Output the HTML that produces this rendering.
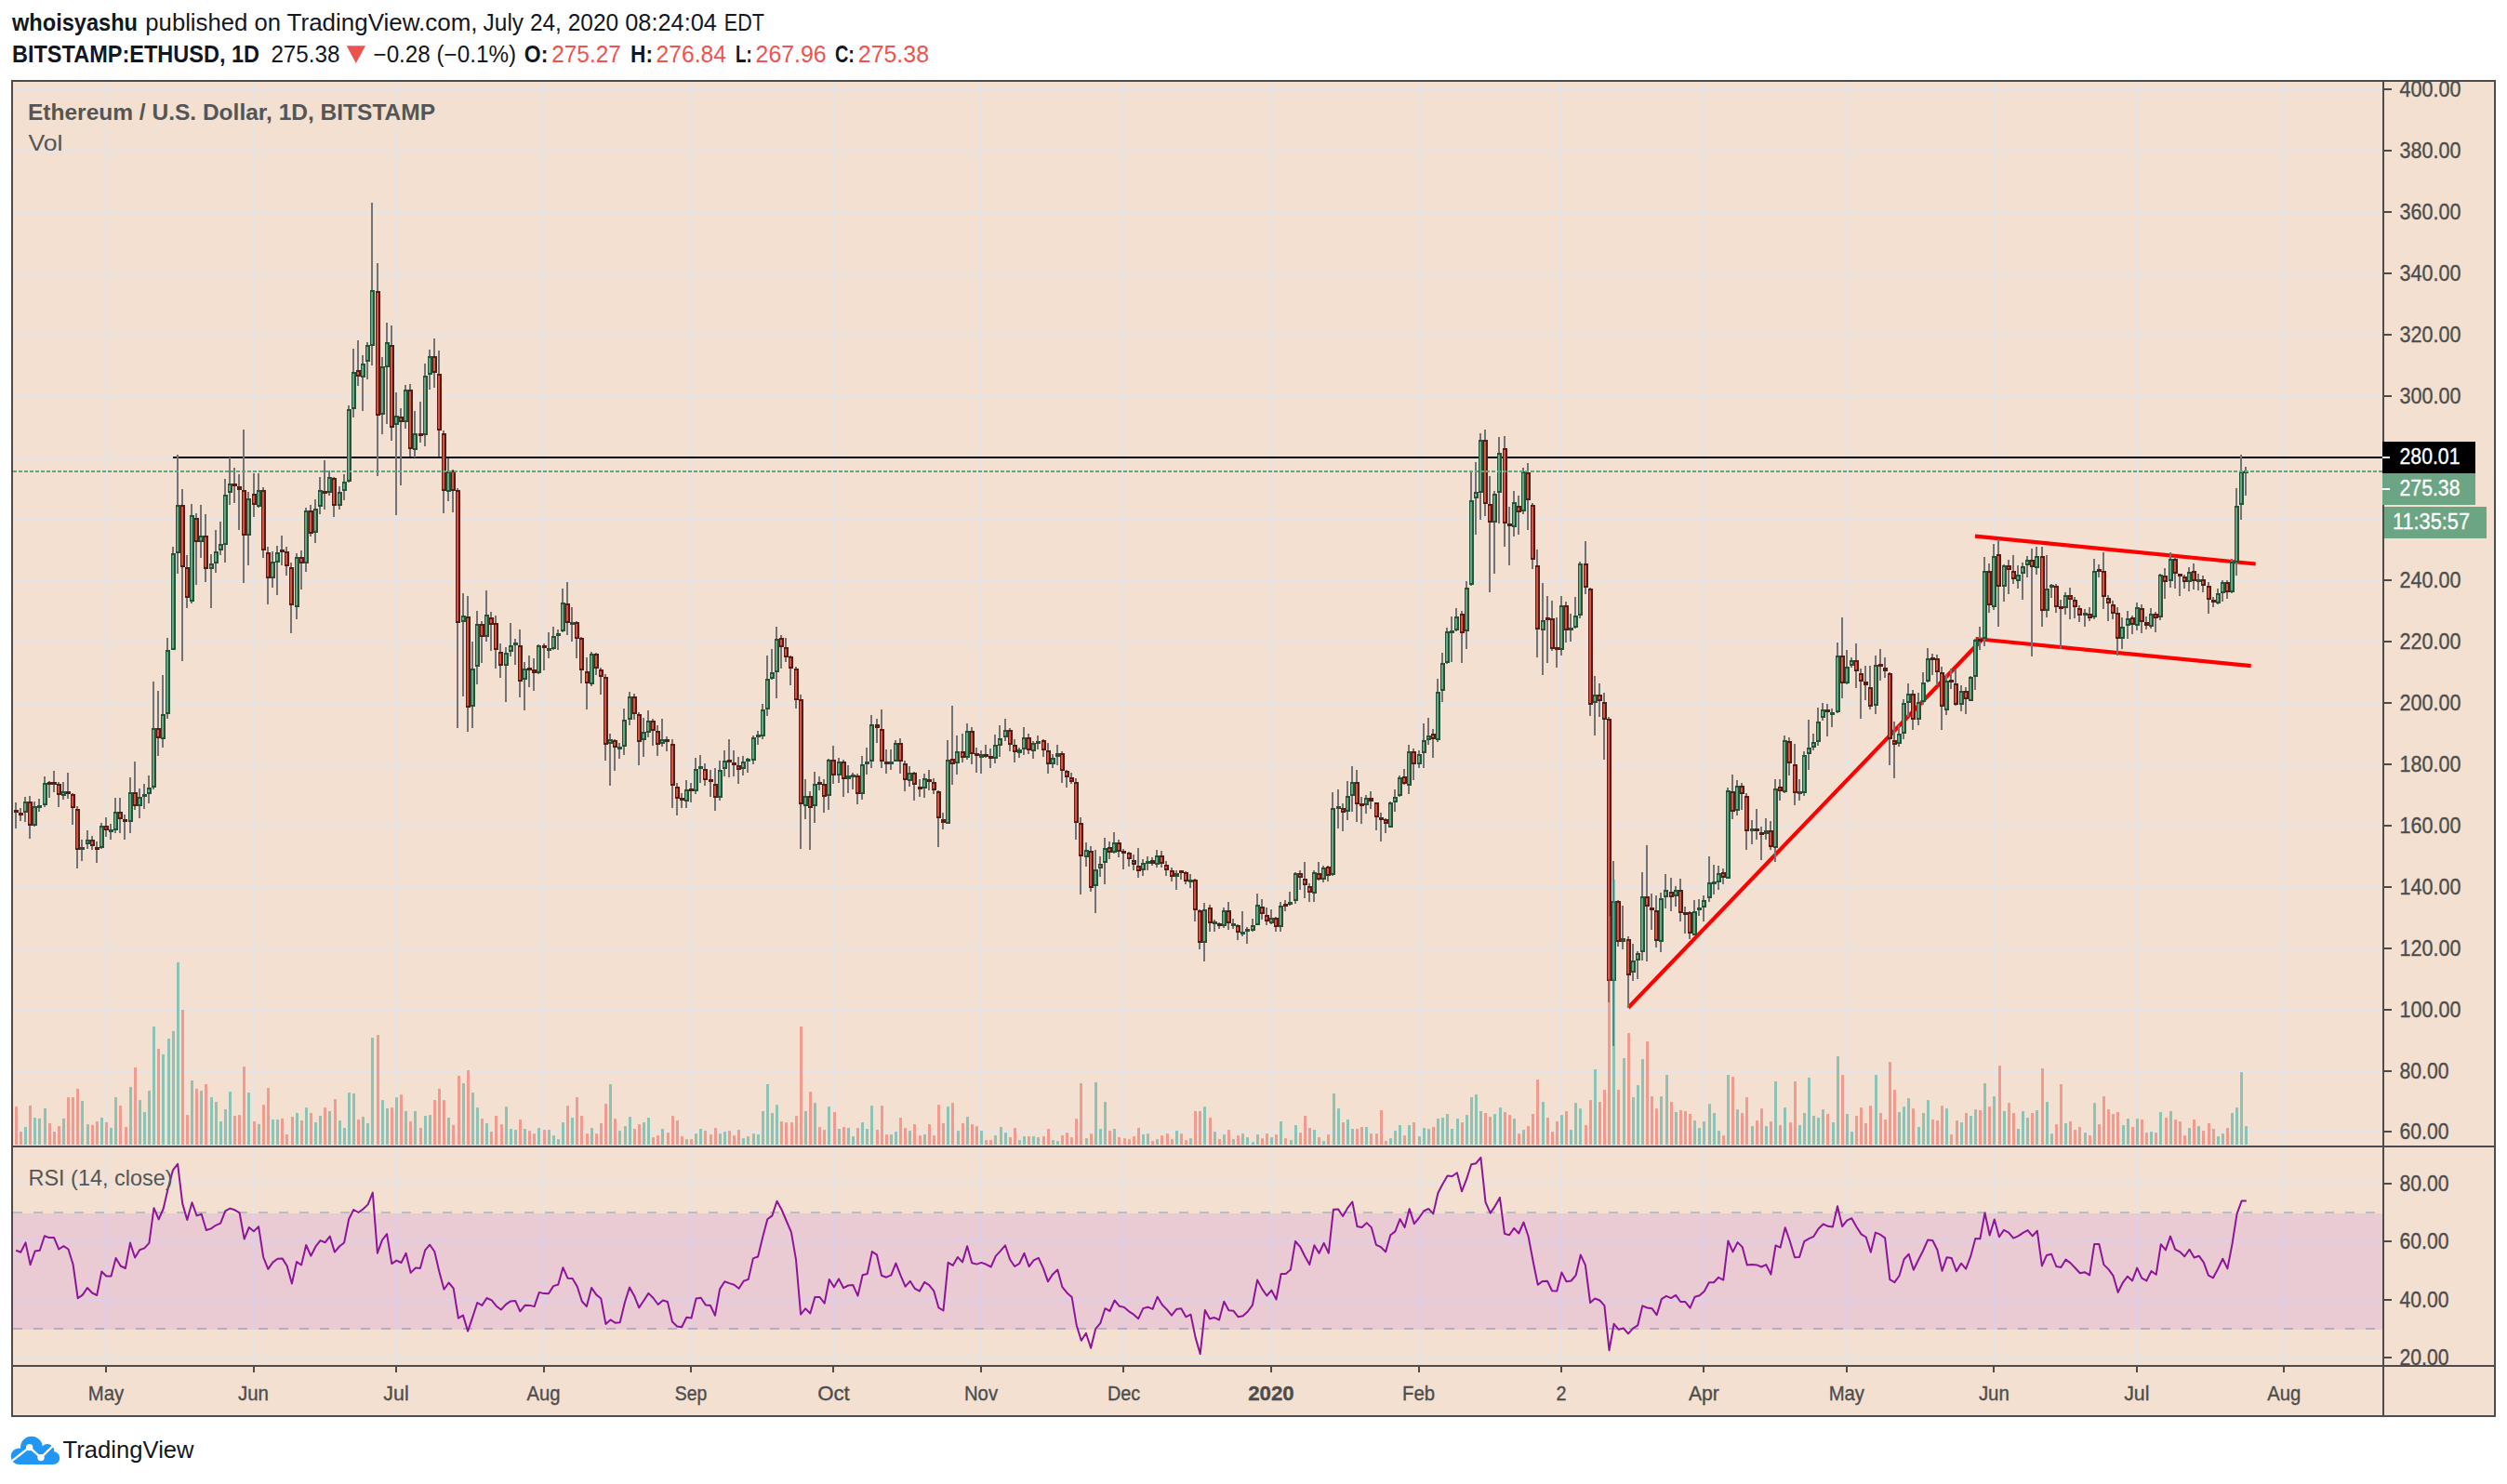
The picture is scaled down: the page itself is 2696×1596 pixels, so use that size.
<!DOCTYPE html><html><head><meta charset="utf-8"><title>ETHUSD chart</title><style>html,body{margin:0;padding:0;background:#fff;width:2696px;height:1596px;overflow:hidden}</style></head><body><svg width="2696" height="1596" viewBox="0 0 2696 1596" style="position:absolute;left:0;top:0;display:block">
<rect x="0" y="0" width="2696" height="1596" fill="#ffffff"/>
<rect x="12" y="86" width="2672" height="1438" fill="#4c4c4e"/>
<rect x="14" y="88" width="2668" height="1434" fill="#f3e0d0"/>
<defs><clipPath id="cm"><rect x="14" y="88" width="2548" height="1144"/></clipPath><clipPath id="cr"><rect x="14" y="1234" width="2548" height="234"/></clipPath><clipPath id="cp"><rect x="2564" y="88" width="118" height="1144"/></clipPath><clipPath id="ca"><rect x="2564" y="1234" width="118" height="234"/></clipPath></defs>
<g fill="#e5e5e7"><rect x="113" y="88" width="2" height="1144"/><rect x="113" y="1234" width="2" height="234"/><rect x="272" y="88" width="2" height="1144"/><rect x="272" y="1234" width="2" height="234"/><rect x="425" y="88" width="2" height="1144"/><rect x="425" y="1234" width="2" height="234"/><rect x="584" y="88" width="2" height="1144"/><rect x="584" y="1234" width="2" height="234"/><rect x="742" y="88" width="2" height="1144"/><rect x="742" y="1234" width="2" height="234"/><rect x="895" y="88" width="2" height="1144"/><rect x="895" y="1234" width="2" height="234"/><rect x="1054" y="88" width="2" height="1144"/><rect x="1054" y="1234" width="2" height="234"/><rect x="1207" y="88" width="2" height="1144"/><rect x="1207" y="1234" width="2" height="234"/><rect x="1366" y="88" width="2" height="1144"/><rect x="1366" y="1234" width="2" height="234"/><rect x="1525" y="88" width="2" height="1144"/><rect x="1525" y="1234" width="2" height="234"/><rect x="1678" y="88" width="2" height="1144"/><rect x="1678" y="1234" width="2" height="234"/><rect x="1831" y="88" width="2" height="1144"/><rect x="1831" y="1234" width="2" height="234"/><rect x="1985" y="88" width="2" height="1144"/><rect x="1985" y="1234" width="2" height="234"/><rect x="2143" y="88" width="2" height="1144"/><rect x="2143" y="1234" width="2" height="234"/><rect x="2297" y="88" width="2" height="1144"/><rect x="2297" y="1234" width="2" height="234"/><rect x="2455" y="88" width="2" height="1144"/><rect x="2455" y="1234" width="2" height="234"/><rect x="14" y="95" width="2548" height="2"/><rect x="14" y="161" width="2548" height="2"/><rect x="14" y="227" width="2548" height="2"/><rect x="14" y="293" width="2548" height="2"/><rect x="14" y="359" width="2548" height="2"/><rect x="14" y="425" width="2548" height="2"/><rect x="14" y="491" width="2548" height="2"/><rect x="14" y="557" width="2548" height="2"/><rect x="14" y="623" width="2548" height="2"/><rect x="14" y="689" width="2548" height="2"/><rect x="14" y="755" width="2548" height="2"/><rect x="14" y="821" width="2548" height="2"/><rect x="14" y="887" width="2548" height="2"/><rect x="14" y="953" width="2548" height="2"/><rect x="14" y="1019" width="2548" height="2"/><rect x="14" y="1085" width="2548" height="2"/><rect x="14" y="1151" width="2548" height="2"/><rect x="14" y="1216" width="2548" height="2"/><rect x="14" y="1272" width="2548" height="2"/><rect x="14" y="1334" width="2548" height="2"/><rect x="14" y="1397" width="2548" height="2"/><rect x="14" y="1459" width="2548" height="2"/></g>
<line x1="14" y1="1304" x2="2562" y2="1304" stroke="#bcbcc3" stroke-width="2" stroke-dasharray="10 12"/>
<line x1="14" y1="1429" x2="2562" y2="1429" stroke="#bcbcc3" stroke-width="2" stroke-dasharray="10 12"/>
<rect x="14" y="1305" width="2548" height="125" fill="#9915ff" fill-opacity="0.1"/>
<rect x="186" y="491" width="2376" height="2" fill="#000"/>
<g stroke="#ff0000" stroke-width="4.2" stroke-linecap="butt" clip-path="url(#cm)"><line x1="1751" y1="1083.7" x2="2131" y2="688.3"/><line x1="2124" y1="576.7" x2="2425.7" y2="606.5"/><line x1="2124.5" y1="687" x2="2420.7" y2="716.1"/></g>
<g clip-path="url(#cm)" shape-rendering="crispEdges"><g fill="#737375"><rect x="16" y="863.4" width="2" height="27.2"/><rect x="21" y="868.5" width="2" height="14.2"/><rect x="26" y="857.2" width="2" height="26.4"/><rect x="31" y="856.2" width="2" height="45.3"/><rect x="36" y="861.5" width="2" height="27.7"/><rect x="41" y="859.1" width="2" height="14.2"/><rect x="47" y="834.5" width="2" height="33.0"/><rect x="52" y="840.2" width="2" height="17.9"/><rect x="57" y="829.2" width="2" height="23.2"/><rect x="62" y="841.1" width="2" height="26.4"/><rect x="67" y="841.1" width="2" height="19.2"/><rect x="72" y="831.1" width="2" height="28.3"/><rect x="77" y="852.5" width="2" height="34.9"/><rect x="82" y="867.2" width="2" height="66.4"/><rect x="87" y="902.5" width="2" height="23.2"/><rect x="93" y="892.5" width="2" height="20.4"/><rect x="98" y="899.2" width="2" height="14.5"/><rect x="103" y="905.3" width="2" height="22.3"/><rect x="108" y="884.5" width="2" height="28.7"/><rect x="113" y="878.5" width="2" height="21.1"/><rect x="118" y="885.5" width="2" height="17.9"/><rect x="123" y="858.1" width="2" height="37.7"/><rect x="128" y="858.1" width="2" height="37.7"/><rect x="133" y="876.0" width="2" height="27.4"/><rect x="139" y="835.5" width="2" height="60.4"/><rect x="144" y="819.4" width="2" height="51.9"/><rect x="149" y="848.3" width="2" height="32.1"/><rect x="154" y="843.4" width="2" height="27.0"/><rect x="159" y="834.2" width="2" height="29.6"/><rect x="164" y="733.2" width="2" height="115.5"/><rect x="169" y="742.5" width="2" height="70.9"/><rect x="174" y="726.0" width="2" height="77.7"/><rect x="179" y="686.4" width="2" height="86.4"/><rect x="185" y="588.1" width="2" height="111.3"/><rect x="190" y="489.4" width="2" height="127.9"/><rect x="195" y="526.2" width="2" height="184.5"/><rect x="200" y="596.6" width="2" height="57.0"/><rect x="205" y="541.9" width="2" height="106.6"/><rect x="210" y="552.3" width="2" height="76.4"/><rect x="215" y="542.8" width="2" height="57.2"/><rect x="220" y="552.8" width="2" height="73.0"/><rect x="226" y="596.2" width="2" height="57.5"/><rect x="231" y="569.8" width="2" height="46.6"/><rect x="236" y="561.1" width="2" height="35.5"/><rect x="241" y="514.9" width="2" height="89.8"/><rect x="246" y="492.3" width="2" height="50.6"/><rect x="251" y="502.8" width="2" height="37.7"/><rect x="256" y="509.8" width="2" height="60.0"/><rect x="261" y="462.1" width="2" height="164.7"/><rect x="266" y="529.1" width="2" height="78.5"/><rect x="272" y="508.9" width="2" height="46.6"/><rect x="277" y="509.2" width="2" height="36.4"/><rect x="282" y="524.0" width="2" height="76.4"/><rect x="287" y="588.1" width="2" height="62.3"/><rect x="292" y="593.2" width="2" height="39.2"/><rect x="297" y="587.2" width="2" height="52.3"/><rect x="302" y="575.8" width="2" height="32.6"/><rect x="307" y="588.1" width="2" height="31.1"/><rect x="312" y="605.1" width="2" height="75.5"/><rect x="318" y="595.1" width="2" height="70.4"/><rect x="323" y="591.9" width="2" height="42.5"/><rect x="328" y="546.0" width="2" height="68.5"/><rect x="333" y="542.8" width="2" height="34.5"/><rect x="338" y="537.2" width="2" height="46.6"/><rect x="343" y="513.2" width="2" height="39.6"/><rect x="348" y="495.1" width="2" height="52.5"/><rect x="353" y="506.4" width="2" height="27.0"/><rect x="358" y="512.6" width="2" height="43.8"/><rect x="364" y="523.4" width="2" height="24.2"/><rect x="369" y="510.2" width="2" height="27.4"/><rect x="374" y="435.8" width="2" height="83.4"/><rect x="379" y="375.1" width="2" height="73.6"/><rect x="384" y="366.0" width="2" height="48.7"/><rect x="389" y="382.1" width="2" height="59.4"/><rect x="394" y="367.9" width="2" height="39.6"/><rect x="399" y="217.9" width="2" height="175.5"/><rect x="405" y="283.0" width="2" height="228.7"/><rect x="410" y="384.0" width="2" height="82.5"/><rect x="415" y="347.2" width="2" height="108.5"/><rect x="420" y="350.4" width="2" height="123.2"/><rect x="425" y="422.3" width="2" height="131.3"/><rect x="430" y="439.2" width="2" height="82.3"/><rect x="435" y="414.2" width="2" height="47.2"/><rect x="440" y="413.2" width="2" height="78.1"/><rect x="445" y="442.1" width="2" height="49.8"/><rect x="451" y="432.1" width="2" height="43.4"/><rect x="456" y="391.1" width="2" height="88.5"/><rect x="461" y="376.0" width="2" height="42.5"/><rect x="466" y="364.2" width="2" height="52.5"/><rect x="471" y="377.0" width="2" height="114.3"/><rect x="476" y="463.2" width="2" height="88.5"/><rect x="481" y="493.2" width="2" height="45.3"/><rect x="486" y="505.1" width="2" height="46.2"/><rect x="491" y="525.3" width="2" height="257.4"/><rect x="497" y="638.3" width="2" height="110.4"/><rect x="502" y="641.1" width="2" height="146.2"/><rect x="507" y="690.2" width="2" height="92.5"/><rect x="512" y="657.2" width="2" height="78.3"/><rect x="517" y="668.1" width="2" height="44.7"/><rect x="522" y="634.9" width="2" height="54.7"/><rect x="527" y="658.1" width="2" height="41.5"/><rect x="532" y="662.3" width="2" height="56.2"/><rect x="537" y="692.1" width="2" height="36.8"/><rect x="543" y="696.2" width="2" height="58.7"/><rect x="548" y="670.0" width="2" height="35.8"/><rect x="553" y="687.0" width="2" height="27.7"/><rect x="558" y="677.0" width="2" height="72.6"/><rect x="563" y="711.9" width="2" height="51.9"/><rect x="568" y="705.3" width="2" height="33.6"/><rect x="573" y="707.5" width="2" height="35.1"/><rect x="578" y="693.0" width="2" height="32.1"/><rect x="584" y="692.1" width="2" height="28.9"/><rect x="589" y="680.2" width="2" height="27.5"/><rect x="594" y="674.2" width="2" height="24.9"/><rect x="599" y="677.0" width="2" height="21.7"/><rect x="604" y="633.0" width="2" height="47.2"/><rect x="609" y="625.5" width="2" height="57.2"/><rect x="614" y="653.0" width="2" height="36.6"/><rect x="619" y="668.1" width="2" height="39.6"/><rect x="624" y="685.1" width="2" height="49.4"/><rect x="630" y="707.2" width="2" height="55.7"/><rect x="635" y="700.9" width="2" height="37.0"/><rect x="640" y="702.1" width="2" height="23.6"/><rect x="645" y="717.9" width="2" height="28.9"/><rect x="650" y="725.1" width="2" height="93.0"/><rect x="655" y="788.9" width="2" height="56.0"/><rect x="660" y="794.5" width="2" height="34.3"/><rect x="665" y="798.7" width="2" height="17.0"/><rect x="670" y="761.9" width="2" height="50.0"/><rect x="676" y="744.0" width="2" height="35.8"/><rect x="681" y="745.8" width="2" height="28.3"/><rect x="686" y="765.7" width="2" height="57.2"/><rect x="691" y="771.9" width="2" height="41.9"/><rect x="696" y="763.8" width="2" height="29.6"/><rect x="701" y="773.2" width="2" height="29.2"/><rect x="706" y="779.8" width="2" height="33.0"/><rect x="711" y="773.2" width="2" height="30.2"/><rect x="716" y="792.1" width="2" height="15.7"/><rect x="722" y="795.3" width="2" height="73.6"/><rect x="727" y="842.1" width="2" height="34.9"/><rect x="732" y="853.0" width="2" height="16.4"/><rect x="737" y="838.9" width="2" height="29.6"/><rect x="742" y="842.1" width="2" height="20.8"/><rect x="747" y="814.7" width="2" height="39.1"/><rect x="752" y="811.9" width="2" height="29.8"/><rect x="757" y="820.9" width="2" height="24.0"/><rect x="763" y="827.9" width="2" height="28.9"/><rect x="768" y="826.0" width="2" height="45.8"/><rect x="773" y="818.1" width="2" height="42.8"/><rect x="778" y="807.2" width="2" height="27.7"/><rect x="783" y="794.9" width="2" height="40.9"/><rect x="788" y="806.8" width="2" height="28.1"/><rect x="793" y="813.8" width="2" height="29.2"/><rect x="798" y="812.8" width="2" height="21.3"/><rect x="803" y="814.7" width="2" height="16.0"/><rect x="809" y="791.1" width="2" height="30.8"/><rect x="814" y="786.0" width="2" height="14.9"/><rect x="819" y="757.2" width="2" height="37.7"/><rect x="824" y="704.9" width="2" height="65.1"/><rect x="829" y="698.1" width="2" height="32.6"/><rect x="834" y="674.2" width="2" height="76.4"/><rect x="839" y="682.6" width="2" height="36.2"/><rect x="844" y="686.0" width="2" height="25.8"/><rect x="849" y="705.3" width="2" height="31.5"/><rect x="855" y="717.2" width="2" height="44.7"/><rect x="860" y="747.2" width="2" height="165.5"/><rect x="865" y="838.1" width="2" height="42.5"/><rect x="870" y="851.3" width="2" height="62.3"/><rect x="875" y="830.2" width="2" height="54.7"/><rect x="880" y="835.3" width="2" height="15.1"/><rect x="885" y="838.1" width="2" height="35.5"/><rect x="890" y="815.5" width="2" height="55.3"/><rect x="895" y="801.9" width="2" height="40.9"/><rect x="901" y="815.1" width="2" height="26.8"/><rect x="906" y="817.4" width="2" height="39.2"/><rect x="911" y="823.0" width="2" height="29.8"/><rect x="916" y="830.9" width="2" height="18.1"/><rect x="921" y="831.5" width="2" height="33.4"/><rect x="926" y="813.2" width="2" height="46.6"/><rect x="931" y="804.2" width="2" height="28.7"/><rect x="936" y="769.2" width="2" height="56.6"/><rect x="942" y="773.0" width="2" height="25.5"/><rect x="947" y="763.0" width="2" height="62.8"/><rect x="952" y="806.0" width="2" height="25.8"/><rect x="957" y="806.0" width="2" height="21.7"/><rect x="962" y="796.0" width="2" height="23.2"/><rect x="967" y="794.2" width="2" height="37.4"/><rect x="972" y="818.3" width="2" height="32.5"/><rect x="977" y="824.3" width="2" height="21.3"/><rect x="982" y="830.2" width="2" height="30.6"/><rect x="988" y="838.1" width="2" height="18.5"/><rect x="993" y="832.1" width="2" height="25.5"/><rect x="998" y="828.1" width="2" height="21.9"/><rect x="1003" y="837.2" width="2" height="16.6"/><rect x="1008" y="850.4" width="2" height="60.4"/><rect x="1013" y="874.0" width="2" height="17.5"/><rect x="1018" y="796.0" width="2" height="90.2"/><rect x="1023" y="758.9" width="2" height="84.9"/><rect x="1028" y="790.9" width="2" height="41.9"/><rect x="1034" y="789.1" width="2" height="30.6"/><rect x="1039" y="778.1" width="2" height="38.9"/><rect x="1044" y="781.9" width="2" height="39.8"/><rect x="1049" y="804.2" width="2" height="26.8"/><rect x="1054" y="807.0" width="2" height="24.9"/><rect x="1059" y="800.9" width="2" height="14.5"/><rect x="1064" y="805.1" width="2" height="20.8"/><rect x="1069" y="790.0" width="2" height="31.1"/><rect x="1074" y="780.0" width="2" height="33.6"/><rect x="1080" y="773.0" width="2" height="23.6"/><rect x="1085" y="783.0" width="2" height="24.5"/><rect x="1090" y="795.3" width="2" height="24.5"/><rect x="1095" y="804.2" width="2" height="10.8"/><rect x="1100" y="782.1" width="2" height="29.6"/><rect x="1105" y="789.1" width="2" height="21.7"/><rect x="1110" y="797.2" width="2" height="18.7"/><rect x="1115" y="790.9" width="2" height="15.1"/><rect x="1121" y="794.7" width="2" height="18.9"/><rect x="1126" y="799.1" width="2" height="32.8"/><rect x="1131" y="811.3" width="2" height="14.5"/><rect x="1136" y="800.9" width="2" height="21.7"/><rect x="1141" y="807.9" width="2" height="34.0"/><rect x="1146" y="828.1" width="2" height="18.9"/><rect x="1151" y="831.1" width="2" height="11.7"/><rect x="1156" y="837.2" width="2" height="65.7"/><rect x="1161" y="879.1" width="2" height="82.6"/><rect x="1167" y="906.0" width="2" height="26.4"/><rect x="1172" y="909.8" width="2" height="49.1"/><rect x="1177" y="914.0" width="2" height="67.5"/><rect x="1182" y="921.1" width="2" height="21.7"/><rect x="1187" y="900.9" width="2" height="49.8"/><rect x="1192" y="905.1" width="2" height="18.9"/><rect x="1197" y="895.1" width="2" height="23.2"/><rect x="1202" y="903.2" width="2" height="18.5"/><rect x="1207" y="912.6" width="2" height="22.3"/><rect x="1213" y="915.5" width="2" height="16.4"/><rect x="1218" y="919.2" width="2" height="16.4"/><rect x="1223" y="912.1" width="2" height="31.7"/><rect x="1228" y="924.0" width="2" height="17.9"/><rect x="1233" y="920.9" width="2" height="15.1"/><rect x="1238" y="921.9" width="2" height="9.4"/><rect x="1243" y="914.3" width="2" height="18.9"/><rect x="1248" y="915.3" width="2" height="17.4"/><rect x="1253" y="926.2" width="2" height="15.5"/><rect x="1259" y="933.2" width="2" height="14.5"/><rect x="1264" y="935.5" width="2" height="21.3"/><rect x="1269" y="937.0" width="2" height="8.5"/><rect x="1274" y="937.0" width="2" height="13.6"/><rect x="1279" y="939.8" width="2" height="14.7"/><rect x="1284" y="944.5" width="2" height="46.2"/><rect x="1289" y="977.5" width="2" height="43.4"/><rect x="1294" y="970.9" width="2" height="62.8"/><rect x="1300" y="972.8" width="2" height="28.9"/><rect x="1305" y="988.9" width="2" height="12.8"/><rect x="1310" y="991.7" width="2" height="7.0"/><rect x="1315" y="976.0" width="2" height="21.9"/><rect x="1320" y="970.0" width="2" height="29.6"/><rect x="1325" y="987.9" width="2" height="10.9"/><rect x="1330" y="993.6" width="2" height="17.0"/><rect x="1335" y="979.8" width="2" height="27.0"/><rect x="1340" y="997.0" width="2" height="17.9"/><rect x="1346" y="987.9" width="2" height="13.8"/><rect x="1351" y="960.9" width="2" height="34.5"/><rect x="1356" y="966.8" width="2" height="22.1"/><rect x="1361" y="976.0" width="2" height="18.9"/><rect x="1366" y="978.1" width="2" height="16.0"/><rect x="1371" y="986.0" width="2" height="15.7"/><rect x="1376" y="970.0" width="2" height="31.7"/><rect x="1381" y="968.1" width="2" height="11.9"/><rect x="1386" y="959.1" width="2" height="14.7"/><rect x="1392" y="937.9" width="2" height="33.6"/><rect x="1397" y="936.0" width="2" height="21.3"/><rect x="1402" y="927.0" width="2" height="38.7"/><rect x="1407" y="950.2" width="2" height="19.4"/><rect x="1412" y="936.0" width="2" height="33.6"/><rect x="1417" y="927.0" width="2" height="20.4"/><rect x="1422" y="931.3" width="2" height="17.4"/><rect x="1427" y="930.8" width="2" height="17.0"/><rect x="1432" y="852.1" width="2" height="89.6"/><rect x="1438" y="849.2" width="2" height="42.1"/><rect x="1443" y="864.0" width="2" height="29.6"/><rect x="1448" y="840.2" width="2" height="41.5"/><rect x="1453" y="824.2" width="2" height="48.7"/><rect x="1458" y="828.1" width="2" height="55.7"/><rect x="1463" y="857.2" width="2" height="28.3"/><rect x="1468" y="855.3" width="2" height="19.4"/><rect x="1473" y="851.1" width="2" height="18.5"/><rect x="1479" y="862.5" width="2" height="30.2"/><rect x="1484" y="874.2" width="2" height="30.8"/><rect x="1489" y="880.4" width="2" height="16.0"/><rect x="1494" y="862.1" width="2" height="28.3"/><rect x="1499" y="849.2" width="2" height="23.6"/><rect x="1504" y="834.2" width="2" height="22.6"/><rect x="1509" y="827.2" width="2" height="17.0"/><rect x="1514" y="801.1" width="2" height="52.5"/><rect x="1519" y="804.9" width="2" height="34.5"/><rect x="1525" y="807.2" width="2" height="18.5"/><rect x="1530" y="778.1" width="2" height="47.5"/><rect x="1535" y="772.3" width="2" height="28.3"/><rect x="1540" y="784.2" width="2" height="31.1"/><rect x="1545" y="730.0" width="2" height="67.9"/><rect x="1550" y="702.1" width="2" height="52.8"/><rect x="1555" y="675.1" width="2" height="39.1"/><rect x="1560" y="662.8" width="2" height="49.1"/><rect x="1565" y="654.2" width="2" height="25.1"/><rect x="1571" y="657.2" width="2" height="55.7"/><rect x="1576" y="625.1" width="2" height="72.6"/><rect x="1581" y="508.1" width="2" height="122.1"/><rect x="1586" y="497.2" width="2" height="77.4"/><rect x="1591" y="466.0" width="2" height="93.4"/><rect x="1596" y="461.9" width="2" height="92.8"/><rect x="1601" y="512.3" width="2" height="124.5"/><rect x="1606" y="527.7" width="2" height="89.2"/><rect x="1611" y="469.8" width="2" height="93.0"/><rect x="1617" y="468.9" width="2" height="118.9"/><rect x="1622" y="545.3" width="2" height="62.3"/><rect x="1627" y="527.9" width="2" height="48.9"/><rect x="1632" y="533.0" width="2" height="41.9"/><rect x="1637" y="503.4" width="2" height="49.4"/><rect x="1642" y="498.1" width="2" height="71.7"/><rect x="1647" y="541.1" width="2" height="70.6"/><rect x="1652" y="591.1" width="2" height="115.5"/><rect x="1658" y="627.0" width="2" height="98.5"/><rect x="1663" y="641.1" width="2" height="71.7"/><rect x="1668" y="646.2" width="2" height="53.8"/><rect x="1673" y="664.2" width="2" height="53.4"/><rect x="1678" y="641.1" width="2" height="63.6"/><rect x="1683" y="647.2" width="2" height="43.4"/><rect x="1688" y="660.0" width="2" height="29.6"/><rect x="1693" y="642.1" width="2" height="34.3"/><rect x="1698" y="603.8" width="2" height="60.9"/><rect x="1704" y="582.1" width="2" height="56.6"/><rect x="1709" y="632.1" width="2" height="137.7"/><rect x="1714" y="727.4" width="2" height="63.2"/><rect x="1719" y="734.9" width="2" height="35.8"/><rect x="1724" y="745.3" width="2" height="71.3"/><rect x="1729" y="770.8" width="2" height="306.8"/><rect x="1734" y="926.2" width="2" height="198.4"/><rect x="1739" y="967.9" width="2" height="49.8"/><rect x="1744" y="974.3" width="2" height="46.3"/><rect x="1750" y="1007.3" width="2" height="76.4"/><rect x="1755" y="1015.3" width="2" height="39.3"/><rect x="1760" y="1023.4" width="2" height="29.4"/><rect x="1765" y="938.2" width="2" height="95.2"/><rect x="1770" y="909.2" width="2" height="125.2"/><rect x="1775" y="961.1" width="2" height="39.3"/><rect x="1780" y="963.3" width="2" height="55.3"/><rect x="1785" y="960.4" width="2" height="63.1"/><rect x="1790" y="940.3" width="2" height="37.1"/><rect x="1796" y="944.3" width="2" height="36.1"/><rect x="1801" y="953.3" width="2" height="22.1"/><rect x="1806" y="945.3" width="2" height="45.3"/><rect x="1811" y="975.4" width="2" height="28.2"/><rect x="1816" y="979.9" width="2" height="29.7"/><rect x="1821" y="968.2" width="2" height="38.2"/><rect x="1826" y="967.2" width="2" height="18.1"/><rect x="1831" y="963.3" width="2" height="27.3"/><rect x="1837" y="921.2" width="2" height="48.4"/><rect x="1842" y="930.1" width="2" height="31.4"/><rect x="1847" y="931.1" width="2" height="26.2"/><rect x="1852" y="934.2" width="2" height="17.1"/><rect x="1857" y="847.2" width="2" height="98.1"/><rect x="1862" y="833.4" width="2" height="47.2"/><rect x="1867" y="839.2" width="2" height="37.5"/><rect x="1872" y="842.1" width="2" height="28.7"/><rect x="1877" y="853.2" width="2" height="60.4"/><rect x="1883" y="882.1" width="2" height="25.5"/><rect x="1888" y="870.2" width="2" height="33.2"/><rect x="1893" y="889.2" width="2" height="35.3"/><rect x="1898" y="880.2" width="2" height="23.2"/><rect x="1903" y="883.0" width="2" height="31.1"/><rect x="1908" y="838.3" width="2" height="89.1"/><rect x="1913" y="838.3" width="2" height="23.0"/><rect x="1918" y="790.6" width="2" height="62.3"/><rect x="1923" y="793.4" width="2" height="40.2"/><rect x="1929" y="800.0" width="2" height="65.7"/><rect x="1934" y="838.1" width="2" height="22.6"/><rect x="1939" y="807.5" width="2" height="48.1"/><rect x="1944" y="774.2" width="2" height="53.6"/><rect x="1949" y="789.1" width="2" height="18.1"/><rect x="1954" y="761.3" width="2" height="41.1"/><rect x="1959" y="756.0" width="2" height="19.4"/><rect x="1964" y="757.2" width="2" height="34.3"/><rect x="1969" y="762.3" width="2" height="19.2"/><rect x="1975" y="691.0" width="2" height="76.0"/><rect x="1980" y="664.0" width="2" height="86.6"/><rect x="1985" y="699.1" width="2" height="36.8"/><rect x="1990" y="707.0" width="2" height="10.6"/><rect x="1995" y="692.1" width="2" height="47.5"/><rect x="2000" y="719.4" width="2" height="53.2"/><rect x="2005" y="716.0" width="2" height="37.4"/><rect x="2010" y="716.0" width="2" height="46.8"/><rect x="2016" y="704.7" width="2" height="62.8"/><rect x="2021" y="698.1" width="2" height="34.3"/><rect x="2026" y="707.0" width="2" height="21.7"/><rect x="2031" y="723.1" width="2" height="99.5"/><rect x="2036" y="775.9" width="2" height="60.6"/><rect x="2041" y="780.2" width="2" height="22.5"/><rect x="2046" y="752.1" width="2" height="42.5"/><rect x="2051" y="735.1" width="2" height="35.7"/><rect x="2056" y="742.2" width="2" height="42.5"/><rect x="2062" y="745.3" width="2" height="34.4"/><rect x="2067" y="723.1" width="2" height="34.6"/><rect x="2072" y="697.2" width="2" height="36.6"/><rect x="2077" y="703.3" width="2" height="22.4"/><rect x="2082" y="704.0" width="2" height="32.8"/><rect x="2087" y="717.0" width="2" height="67.7"/><rect x="2092" y="725.0" width="2" height="43.7"/><rect x="2097" y="719.2" width="2" height="21.6"/><rect x="2102" y="720.1" width="2" height="38.6"/><rect x="2108" y="737.1" width="2" height="27.7"/><rect x="2113" y="739.0" width="2" height="28.8"/><rect x="2118" y="727.2" width="2" height="26.6"/><rect x="2123" y="686.6" width="2" height="54.9"/><rect x="2128" y="674.3" width="2" height="24.3"/><rect x="2133" y="599.2" width="2" height="95.5"/><rect x="2138" y="606.0" width="2" height="52.6"/><rect x="2143" y="585.2" width="2" height="70.3"/><rect x="2148" y="580.2" width="2" height="93.4"/><rect x="2154" y="607.1" width="2" height="39.5"/><rect x="2159" y="602.0" width="2" height="36.5"/><rect x="2164" y="597.1" width="2" height="30.4"/><rect x="2169" y="608.1" width="2" height="24.5"/><rect x="2174" y="605.3" width="2" height="39.3"/><rect x="2179" y="598.2" width="2" height="22.6"/><rect x="2184" y="590.1" width="2" height="116.3"/><rect x="2189" y="588.3" width="2" height="30.1"/><rect x="2195" y="588.3" width="2" height="85.3"/><rect x="2200" y="597.1" width="2" height="66.5"/><rect x="2205" y="628.2" width="2" height="14.3"/><rect x="2210" y="628.3" width="2" height="30.3"/><rect x="2215" y="645.3" width="2" height="52.6"/><rect x="2220" y="637.1" width="2" height="24.3"/><rect x="2225" y="632.2" width="2" height="33.3"/><rect x="2230" y="642.1" width="2" height="23.3"/><rect x="2235" y="651.0" width="2" height="18.4"/><rect x="2241" y="655.1" width="2" height="18.5"/><rect x="2246" y="653.4" width="2" height="14.4"/><rect x="2251" y="601.0" width="2" height="65.4"/><rect x="2256" y="607.1" width="2" height="14.2"/><rect x="2261" y="594.4" width="2" height="60.1"/><rect x="2266" y="640.2" width="2" height="27.3"/><rect x="2271" y="646.0" width="2" height="20.4"/><rect x="2276" y="653.1" width="2" height="51.5"/><rect x="2281" y="664.3" width="2" height="33.3"/><rect x="2287" y="657.4" width="2" height="30.0"/><rect x="2292" y="661.5" width="2" height="20.2"/><rect x="2297" y="648.2" width="2" height="29.6"/><rect x="2302" y="650.1" width="2" height="30.4"/><rect x="2307" y="663.3" width="2" height="13.2"/><rect x="2312" y="654.1" width="2" height="21.6"/><rect x="2317" y="657.6" width="2" height="21.9"/><rect x="2322" y="617.0" width="2" height="49.8"/><rect x="2327" y="611.1" width="2" height="32.7"/><rect x="2333" y="594.2" width="2" height="37.5"/><rect x="2338" y="599.1" width="2" height="33.7"/><rect x="2343" y="616.5" width="2" height="24.3"/><rect x="2348" y="618.3" width="2" height="14.4"/><rect x="2353" y="610.1" width="2" height="25.8"/><rect x="2358" y="606.1" width="2" height="27.7"/><rect x="2363" y="617.2" width="2" height="17.7"/><rect x="2368" y="619.0" width="2" height="17.7"/><rect x="2374" y="626.4" width="2" height="33.3"/><rect x="2379" y="642.4" width="2" height="10.5"/><rect x="2384" y="633.2" width="2" height="16.8"/><rect x="2389" y="624.2" width="2" height="22.6"/><rect x="2394" y="624.2" width="2" height="19.5"/><rect x="2399" y="601.3" width="2" height="37.1"/><rect x="2404" y="525.2" width="2" height="93.4"/><rect x="2409" y="488.8" width="2" height="70.0"/><rect x="2414" y="502.3" width="2" height="30.4"/></g><g fill="#225437"><rect x="25" y="861.5" width="5" height="12.6"/><rect x="35" y="867.0" width="5" height="21.3"/><rect x="40" y="865.6" width="5" height="3.0"/><rect x="46" y="841.5" width="5" height="24.5"/><rect x="66" y="850.9" width="5" height="5.3"/><rect x="86" y="910.6" width="5" height="3.8"/><rect x="92" y="902.8" width="5" height="5.3"/><rect x="107" y="887.7" width="5" height="24.7"/><rect x="117" y="892.2" width="5" height="3.0"/><rect x="122" y="872.6" width="5" height="20.8"/><rect x="138" y="851.5" width="5" height="32.1"/><rect x="148" y="856.6" width="5" height="10.6"/><rect x="153" y="854.0" width="5" height="3.0"/><rect x="158" y="847.4" width="5" height="7.0"/><rect x="163" y="782.6" width="5" height="64.7"/><rect x="173" y="767.9" width="5" height="27.2"/><rect x="178" y="698.7" width="5" height="69.2"/><rect x="184" y="595.3" width="5" height="103.2"/><rect x="189" y="543.4" width="5" height="51.9"/><rect x="204" y="553.6" width="5" height="93.0"/><rect x="214" y="575.5" width="5" height="7.9"/><rect x="225" y="606.0" width="5" height="6.0"/><rect x="230" y="592.5" width="5" height="13.6"/><rect x="235" y="584.9" width="5" height="7.5"/><rect x="240" y="531.5" width="5" height="54.7"/><rect x="245" y="519.6" width="5" height="10.6"/><rect x="265" y="535.7" width="5" height="40.6"/><rect x="276" y="527.2" width="5" height="18.1"/><rect x="291" y="603.8" width="5" height="17.7"/><rect x="296" y="593.8" width="5" height="11.3"/><rect x="317" y="598.5" width="5" height="54.7"/><rect x="327" y="549.4" width="5" height="56.6"/><rect x="337" y="546.6" width="5" height="26.6"/><rect x="342" y="527.2" width="5" height="18.1"/><rect x="352" y="512.6" width="5" height="17.5"/><rect x="363" y="528.7" width="5" height="15.5"/><rect x="368" y="518.3" width="5" height="10.0"/><rect x="373" y="439.6" width="5" height="78.7"/><rect x="378" y="399.6" width="5" height="40.0"/><rect x="388" y="390.6" width="5" height="15.5"/><rect x="393" y="370.8" width="5" height="18.5"/><rect x="398" y="311.7" width="5" height="60.4"/><rect x="409" y="394.0" width="5" height="52.3"/><rect x="414" y="367.5" width="5" height="27.7"/><rect x="424" y="446.8" width="5" height="10.2"/><rect x="434" y="419.4" width="5" height="34.7"/><rect x="444" y="466.4" width="5" height="17.9"/><rect x="455" y="404.3" width="5" height="63.2"/><rect x="460" y="382.5" width="5" height="20.9"/><rect x="480" y="507.0" width="5" height="22.1"/><rect x="496" y="661.9" width="5" height="7.5"/><rect x="506" y="718.5" width="5" height="41.9"/><rect x="511" y="670.8" width="5" height="46.4"/><rect x="521" y="661.3" width="5" height="23.8"/><rect x="542" y="701.9" width="5" height="14.2"/><rect x="547" y="693.6" width="5" height="7.5"/><rect x="552" y="691.2" width="5" height="3.0"/><rect x="562" y="719.4" width="5" height="11.9"/><rect x="577" y="694.3" width="5" height="29.8"/><rect x="588" y="696.6" width="5" height="3.0"/><rect x="593" y="683.6" width="5" height="14.3"/><rect x="598" y="680.5" width="5" height="3.0"/><rect x="603" y="647.7" width="5" height="31.5"/><rect x="613" y="669.1" width="5" height="3.0"/><rect x="634" y="703.4" width="5" height="33.0"/><rect x="654" y="794.5" width="5" height="5.1"/><rect x="664" y="802.6" width="5" height="3.0"/><rect x="669" y="773.8" width="5" height="29.6"/><rect x="675" y="748.7" width="5" height="25.1"/><rect x="690" y="786.8" width="5" height="9.6"/><rect x="695" y="774.7" width="5" height="13.2"/><rect x="710" y="794.5" width="5" height="5.1"/><rect x="736" y="848.7" width="5" height="12.8"/><rect x="746" y="826.6" width="5" height="24.0"/><rect x="751" y="824.3" width="5" height="3.0"/><rect x="772" y="827.5" width="5" height="30.9"/><rect x="777" y="817.5" width="5" height="9.4"/><rect x="797" y="819.4" width="5" height="7.5"/><rect x="802" y="816.0" width="5" height="3.0"/><rect x="808" y="793.0" width="5" height="24.5"/><rect x="813" y="790.2" width="5" height="3.0"/><rect x="818" y="763.4" width="5" height="28.1"/><rect x="823" y="730.4" width="5" height="33.0"/><rect x="828" y="722.8" width="5" height="7.0"/><rect x="833" y="687.4" width="5" height="35.8"/><rect x="864" y="855.7" width="5" height="11.1"/><rect x="874" y="842.5" width="5" height="24.9"/><rect x="889" y="817.4" width="5" height="38.7"/><rect x="900" y="819.2" width="5" height="15.1"/><rect x="910" y="834.0" width="5" height="4.2"/><rect x="915" y="833.3" width="5" height="3.0"/><rect x="925" y="821.5" width="5" height="32.6"/><rect x="930" y="818.7" width="5" height="3.0"/><rect x="935" y="778.7" width="5" height="40.6"/><rect x="956" y="818.9" width="5" height="3.2"/><rect x="961" y="799.4" width="5" height="19.4"/><rect x="976" y="830.9" width="5" height="9.1"/><rect x="992" y="836.6" width="5" height="11.5"/><rect x="1017" y="817.4" width="5" height="68.3"/><rect x="1027" y="807.5" width="5" height="13.6"/><rect x="1038" y="786.2" width="5" height="29.2"/><rect x="1053" y="810.8" width="5" height="4.3"/><rect x="1068" y="801.3" width="5" height="15.1"/><rect x="1073" y="793.8" width="5" height="8.1"/><rect x="1079" y="785.3" width="5" height="8.1"/><rect x="1094" y="805.5" width="5" height="4.7"/><rect x="1099" y="792.5" width="5" height="13.6"/><rect x="1109" y="799.4" width="5" height="8.5"/><rect x="1114" y="796.5" width="5" height="3.0"/><rect x="1130" y="814.5" width="5" height="7.9"/><rect x="1135" y="809.8" width="5" height="4.3"/><rect x="1166" y="913.6" width="5" height="8.5"/><rect x="1176" y="934.7" width="5" height="18.5"/><rect x="1181" y="928.7" width="5" height="5.7"/><rect x="1186" y="912.3" width="5" height="16.0"/><rect x="1196" y="905.5" width="5" height="11.9"/><rect x="1227" y="927.7" width="5" height="8.5"/><rect x="1232" y="925.9" width="5" height="3.0"/><rect x="1242" y="919.6" width="5" height="10.4"/><rect x="1263" y="938.9" width="5" height="4.3"/><rect x="1278" y="945.9" width="5" height="3.0"/><rect x="1293" y="977.5" width="5" height="36.8"/><rect x="1304" y="991.0" width="5" height="3.0"/><rect x="1314" y="979.4" width="5" height="16.6"/><rect x="1324" y="992.7" width="5" height="3.0"/><rect x="1334" y="1001.6" width="5" height="3.0"/><rect x="1339" y="999.2" width="5" height="3.0"/><rect x="1345" y="994.5" width="5" height="6.0"/><rect x="1350" y="973.4" width="5" height="21.1"/><rect x="1365" y="986.6" width="5" height="6.0"/><rect x="1375" y="974.3" width="5" height="22.6"/><rect x="1385" y="970.4" width="5" height="3.0"/><rect x="1391" y="939.4" width="5" height="29.6"/><rect x="1411" y="938.3" width="5" height="22.8"/><rect x="1421" y="933.2" width="5" height="13.2"/><rect x="1431" y="868.5" width="5" height="72.6"/><rect x="1437" y="866.8" width="5" height="3.0"/><rect x="1447" y="856.4" width="5" height="17.0"/><rect x="1452" y="841.3" width="5" height="15.1"/><rect x="1467" y="857.7" width="5" height="8.5"/><rect x="1493" y="862.5" width="5" height="27.0"/><rect x="1498" y="856.8" width="5" height="6.2"/><rect x="1503" y="836.0" width="5" height="20.4"/><rect x="1513" y="807.7" width="5" height="37.4"/><rect x="1524" y="810.6" width="5" height="11.3"/><rect x="1529" y="795.8" width="5" height="14.3"/><rect x="1534" y="790.8" width="5" height="5.1"/><rect x="1544" y="744.3" width="5" height="51.3"/><rect x="1549" y="713.4" width="5" height="29.4"/><rect x="1554" y="678.9" width="5" height="34.0"/><rect x="1559" y="678.2" width="5" height="3.0"/><rect x="1564" y="662.8" width="5" height="15.5"/><rect x="1575" y="631.5" width="5" height="47.7"/><rect x="1580" y="537.7" width="5" height="91.1"/><rect x="1585" y="529.2" width="5" height="7.2"/><rect x="1590" y="472.6" width="5" height="57.5"/><rect x="1605" y="530.8" width="5" height="31.5"/><rect x="1610" y="486.8" width="5" height="43.4"/><rect x="1626" y="539.6" width="5" height="27.4"/><rect x="1636" y="507.2" width="5" height="42.8"/><rect x="1657" y="666.6" width="5" height="11.7"/><rect x="1677" y="650.6" width="5" height="48.5"/><rect x="1687" y="674.9" width="5" height="3.0"/><rect x="1692" y="661.9" width="5" height="13.2"/><rect x="1697" y="606.2" width="5" height="55.7"/><rect x="1713" y="746.8" width="5" height="9.4"/><rect x="1733" y="969.3" width="5" height="86.0"/><rect x="1743" y="1008.7" width="5" height="3.8"/><rect x="1754" y="1033.4" width="5" height="13.0"/><rect x="1759" y="1024.5" width="5" height="8.1"/><rect x="1764" y="964.4" width="5" height="59.1"/><rect x="1784" y="965.5" width="5" height="47.0"/><rect x="1789" y="956.6" width="5" height="8.5"/><rect x="1800" y="957.3" width="5" height="7.1"/><rect x="1820" y="979.5" width="5" height="26.3"/><rect x="1825" y="975.8" width="5" height="3.0"/><rect x="1830" y="967.6" width="5" height="8.8"/><rect x="1836" y="948.5" width="5" height="17.3"/><rect x="1841" y="947.7" width="5" height="3.0"/><rect x="1846" y="938.5" width="5" height="10.6"/><rect x="1856" y="849.6" width="5" height="95.0"/><rect x="1866" y="844.7" width="5" height="27.4"/><rect x="1882" y="891.2" width="5" height="3.0"/><rect x="1897" y="892.8" width="5" height="4.3"/><rect x="1907" y="847.7" width="5" height="64.5"/><rect x="1917" y="795.8" width="5" height="56.0"/><rect x="1933" y="850.7" width="5" height="3.0"/><rect x="1938" y="811.7" width="5" height="41.5"/><rect x="1943" y="803.8" width="5" height="7.5"/><rect x="1948" y="797.7" width="5" height="6.4"/><rect x="1953" y="776.4" width="5" height="21.1"/><rect x="1958" y="762.8" width="5" height="9.4"/><rect x="1968" y="765.8" width="5" height="3.0"/><rect x="1974" y="704.7" width="5" height="61.3"/><rect x="1984" y="717.0" width="5" height="17.9"/><rect x="1989" y="709.8" width="5" height="6.2"/><rect x="2015" y="714.5" width="5" height="44.5"/><rect x="2040" y="789.4" width="5" height="11.0"/><rect x="2045" y="756.3" width="5" height="33.1"/><rect x="2050" y="745.6" width="5" height="10.8"/><rect x="2061" y="754.5" width="5" height="19.8"/><rect x="2066" y="733.5" width="5" height="21.7"/><rect x="2071" y="707.5" width="5" height="25.7"/><rect x="2091" y="732.4" width="5" height="31.1"/><rect x="2107" y="742.5" width="5" height="15.1"/><rect x="2117" y="728.3" width="5" height="25.3"/><rect x="2122" y="688.1" width="5" height="40.3"/><rect x="2132" y="613.5" width="5" height="73.9"/><rect x="2142" y="597.5" width="5" height="55.2"/><rect x="2153" y="608.4" width="5" height="22.8"/><rect x="2168" y="617.6" width="5" height="7.8"/><rect x="2173" y="608.5" width="5" height="8.8"/><rect x="2178" y="601.5" width="5" height="6.7"/><rect x="2188" y="597.5" width="5" height="13.7"/><rect x="2199" y="632.6" width="5" height="24.8"/><rect x="2204" y="629.0" width="5" height="3.0"/><rect x="2219" y="639.5" width="5" height="14.9"/><rect x="2240" y="659.0" width="5" height="3.0"/><rect x="2250" y="613.5" width="5" height="50.9"/><rect x="2280" y="673.6" width="5" height="13.7"/><rect x="2286" y="664.7" width="5" height="8.5"/><rect x="2296" y="653.4" width="5" height="19.1"/><rect x="2311" y="659.8" width="5" height="14.6"/><rect x="2321" y="618.3" width="5" height="46.1"/><rect x="2332" y="600.5" width="5" height="24.5"/><rect x="2352" y="615.3" width="5" height="10.8"/><rect x="2362" y="622.5" width="5" height="3.8"/><rect x="2383" y="638.4" width="5" height="10.9"/><rect x="2388" y="626.4" width="5" height="11.7"/><rect x="2398" y="604.4" width="5" height="33.0"/><rect x="2403" y="544.3" width="5" height="60.8"/><rect x="2408" y="506.5" width="5" height="36.8"/><rect x="2413" y="505.9" width="5" height="3.0"/></g><g fill="#5b1a13"><rect x="15" y="871.4" width="5" height="3.0"/><rect x="20" y="873.8" width="5" height="3.0"/><rect x="30" y="861.5" width="5" height="26.8"/><rect x="51" y="841.0" width="5" height="3.0"/><rect x="56" y="841.0" width="5" height="3.0"/><rect x="61" y="842.5" width="5" height="12.8"/><rect x="71" y="850.9" width="5" height="3.0"/><rect x="76" y="854.3" width="5" height="15.1"/><rect x="81" y="870.4" width="5" height="44.0"/><rect x="97" y="902.8" width="5" height="7.2"/><rect x="102" y="910.8" width="5" height="3.0"/><rect x="112" y="887.7" width="5" height="5.7"/><rect x="127" y="872.6" width="5" height="8.5"/><rect x="132" y="880.9" width="5" height="3.0"/><rect x="143" y="851.5" width="5" height="15.7"/><rect x="168" y="782.6" width="5" height="11.7"/><rect x="194" y="543.4" width="5" height="67.0"/><rect x="199" y="610.4" width="5" height="33.0"/><rect x="209" y="556.6" width="5" height="26.8"/><rect x="219" y="575.5" width="5" height="36.6"/><rect x="250" y="520.3" width="5" height="3.0"/><rect x="255" y="522.5" width="5" height="4.7"/><rect x="260" y="527.2" width="5" height="49.1"/><rect x="271" y="530.9" width="5" height="12.5"/><rect x="281" y="527.2" width="5" height="64.7"/><rect x="286" y="594.3" width="5" height="27.7"/><rect x="301" y="591.3" width="5" height="3.0"/><rect x="306" y="593.2" width="5" height="16.0"/><rect x="311" y="610.4" width="5" height="40.9"/><rect x="322" y="598.5" width="5" height="7.5"/><rect x="332" y="549.4" width="5" height="24.9"/><rect x="347" y="527.7" width="5" height="3.4"/><rect x="357" y="513.6" width="5" height="30.6"/><rect x="383" y="397.7" width="5" height="7.0"/><rect x="404" y="312.6" width="5" height="134.5"/><rect x="419" y="370.8" width="5" height="88.7"/><rect x="429" y="447.5" width="5" height="6.6"/><rect x="439" y="419.4" width="5" height="64.0"/><rect x="450" y="465.5" width="5" height="3.0"/><rect x="465" y="383.4" width="5" height="17.9"/><rect x="470" y="402.3" width="5" height="60.6"/><rect x="475" y="465.5" width="5" height="62.8"/><rect x="485" y="506.4" width="5" height="21.9"/><rect x="490" y="527.2" width="5" height="143.2"/><rect x="501" y="662.8" width="5" height="98.1"/><rect x="516" y="670.8" width="5" height="14.3"/><rect x="526" y="663.8" width="5" height="8.1"/><rect x="531" y="670.0" width="5" height="29.1"/><rect x="536" y="700.6" width="5" height="15.5"/><rect x="557" y="693.6" width="5" height="39.6"/><rect x="567" y="717.7" width="5" height="3.0"/><rect x="572" y="719.8" width="5" height="3.8"/><rect x="583" y="693.6" width="5" height="3.8"/><rect x="608" y="648.7" width="5" height="21.3"/><rect x="618" y="669.4" width="5" height="17.5"/><rect x="623" y="686.4" width="5" height="34.9"/><rect x="629" y="721.7" width="5" height="12.8"/><rect x="639" y="703.4" width="5" height="16.0"/><rect x="644" y="719.8" width="5" height="8.5"/><rect x="649" y="728.3" width="5" height="72.8"/><rect x="659" y="795.8" width="5" height="8.5"/><rect x="680" y="748.7" width="5" height="19.4"/><rect x="685" y="767.5" width="5" height="30.6"/><rect x="700" y="774.7" width="5" height="10.8"/><rect x="705" y="786.4" width="5" height="14.2"/><rect x="715" y="794.8" width="5" height="3.0"/><rect x="721" y="799.6" width="5" height="45.8"/><rect x="726" y="846.2" width="5" height="12.5"/><rect x="731" y="858.1" width="5" height="3.0"/><rect x="741" y="847.9" width="5" height="3.0"/><rect x="756" y="826.6" width="5" height="12.1"/><rect x="762" y="837.7" width="5" height="3.0"/><rect x="767" y="842.6" width="5" height="15.8"/><rect x="782" y="817.3" width="5" height="3.0"/><rect x="787" y="819.8" width="5" height="3.0"/><rect x="792" y="822.6" width="5" height="4.9"/><rect x="838" y="686.4" width="5" height="9.4"/><rect x="843" y="695.8" width="5" height="11.3"/><rect x="848" y="705.8" width="5" height="13.2"/><rect x="854" y="718.5" width="5" height="34.0"/><rect x="859" y="752.3" width="5" height="112.8"/><rect x="869" y="855.7" width="5" height="13.2"/><rect x="879" y="840.9" width="5" height="3.0"/><rect x="884" y="842.8" width="5" height="14.2"/><rect x="894" y="817.4" width="5" height="16.6"/><rect x="905" y="818.7" width="5" height="19.4"/><rect x="920" y="833.8" width="5" height="20.4"/><rect x="941" y="778.7" width="5" height="4.7"/><rect x="946" y="783.8" width="5" height="35.5"/><rect x="951" y="819.2" width="5" height="3.2"/><rect x="966" y="798.5" width="5" height="20.8"/><rect x="971" y="820.6" width="5" height="18.5"/><rect x="981" y="830.9" width="5" height="13.2"/><rect x="987" y="845.6" width="5" height="3.0"/><rect x="997" y="837.7" width="5" height="3.6"/><rect x="1002" y="840.6" width="5" height="9.8"/><rect x="1007" y="851.3" width="5" height="28.3"/><rect x="1012" y="880.6" width="5" height="4.7"/><rect x="1022" y="815.5" width="5" height="6.6"/><rect x="1033" y="807.5" width="5" height="7.5"/><rect x="1043" y="786.2" width="5" height="25.1"/><rect x="1048" y="810.2" width="5" height="3.0"/><rect x="1058" y="810.5" width="5" height="3.0"/><rect x="1063" y="812.6" width="5" height="3.8"/><rect x="1084" y="785.3" width="5" height="15.7"/><rect x="1089" y="800.8" width="5" height="8.5"/><rect x="1104" y="792.5" width="5" height="14.5"/><rect x="1120" y="795.7" width="5" height="11.3"/><rect x="1125" y="806.6" width="5" height="15.5"/><rect x="1140" y="810.4" width="5" height="18.7"/><rect x="1145" y="829.1" width="5" height="7.2"/><rect x="1150" y="835.8" width="5" height="5.5"/><rect x="1155" y="840.6" width="5" height="44.7"/><rect x="1160" y="885.3" width="5" height="35.3"/><rect x="1171" y="914.5" width="5" height="40.0"/><rect x="1191" y="910.8" width="5" height="6.6"/><rect x="1201" y="906.4" width="5" height="9.1"/><rect x="1206" y="915.4" width="5" height="3.0"/><rect x="1212" y="917.4" width="5" height="7.0"/><rect x="1217" y="924.5" width="5" height="5.1"/><rect x="1222" y="930.6" width="5" height="6.0"/><rect x="1237" y="924.7" width="5" height="4.7"/><rect x="1247" y="919.6" width="5" height="9.8"/><rect x="1252" y="930.4" width="5" height="5.1"/><rect x="1258" y="936.4" width="5" height="6.8"/><rect x="1268" y="936.3" width="5" height="3.0"/><rect x="1273" y="938.3" width="5" height="10.0"/><rect x="1283" y="945.5" width="5" height="33.6"/><rect x="1288" y="979.4" width="5" height="34.9"/><rect x="1299" y="975.7" width="5" height="17.5"/><rect x="1309" y="992.6" width="5" height="3.4"/><rect x="1319" y="979.4" width="5" height="13.8"/><rect x="1329" y="994.5" width="5" height="8.9"/><rect x="1355" y="974.7" width="5" height="8.5"/><rect x="1360" y="983.6" width="5" height="7.5"/><rect x="1370" y="986.6" width="5" height="10.4"/><rect x="1380" y="971.9" width="5" height="3.0"/><rect x="1396" y="939.4" width="5" height="4.7"/><rect x="1401" y="944.5" width="5" height="7.9"/><rect x="1406" y="952.5" width="5" height="7.7"/><rect x="1416" y="938.5" width="5" height="7.0"/><rect x="1426" y="932.3" width="5" height="9.8"/><rect x="1442" y="868.5" width="5" height="5.7"/><rect x="1457" y="841.3" width="5" height="24.0"/><rect x="1462" y="864.3" width="5" height="3.0"/><rect x="1472" y="857.7" width="5" height="4.3"/><rect x="1478" y="863.4" width="5" height="15.7"/><rect x="1483" y="878.9" width="5" height="3.0"/><rect x="1488" y="881.3" width="5" height="4.7"/><rect x="1508" y="834.7" width="5" height="8.5"/><rect x="1518" y="807.7" width="5" height="14.2"/><rect x="1539" y="788.5" width="5" height="6.6"/><rect x="1570" y="660.0" width="5" height="20.8"/><rect x="1595" y="472.6" width="5" height="69.4"/><rect x="1600" y="541.5" width="5" height="20.8"/><rect x="1616" y="481.7" width="5" height="81.5"/><rect x="1621" y="563.1" width="5" height="3.0"/><rect x="1631" y="543.8" width="5" height="7.2"/><rect x="1641" y="508.1" width="5" height="30.0"/><rect x="1646" y="543.4" width="5" height="58.5"/><rect x="1651" y="607.5" width="5" height="69.8"/><rect x="1662" y="663.8" width="5" height="3.0"/><rect x="1667" y="665.1" width="5" height="33.0"/><rect x="1672" y="695.8" width="5" height="3.2"/><rect x="1682" y="650.6" width="5" height="27.4"/><rect x="1703" y="606.2" width="5" height="25.8"/><rect x="1708" y="633.4" width="5" height="124.7"/><rect x="1718" y="746.8" width="5" height="7.4"/><rect x="1723" y="754.7" width="5" height="19.4"/><rect x="1728" y="773.0" width="5" height="281.5"/><rect x="1738" y="969.3" width="5" height="43.2"/><rect x="1749" y="1009.7" width="5" height="39.6"/><rect x="1769" y="963.7" width="5" height="11.6"/><rect x="1774" y="975.6" width="5" height="3.0"/><rect x="1779" y="978.5" width="5" height="33.0"/><rect x="1795" y="958.7" width="5" height="6.7"/><rect x="1805" y="956.6" width="5" height="25.5"/><rect x="1810" y="980.8" width="5" height="3.0"/><rect x="1815" y="980.7" width="5" height="23.6"/><rect x="1851" y="937.8" width="5" height="6.4"/><rect x="1861" y="850.6" width="5" height="22.5"/><rect x="1871" y="844.7" width="5" height="9.4"/><rect x="1876" y="855.7" width="5" height="38.3"/><rect x="1887" y="891.4" width="5" height="3.0"/><rect x="1892" y="894.5" width="5" height="3.0"/><rect x="1902" y="893.4" width="5" height="17.5"/><rect x="1912" y="845.7" width="5" height="5.7"/><rect x="1922" y="796.6" width="5" height="24.2"/><rect x="1928" y="821.7" width="5" height="31.1"/><rect x="1963" y="763.1" width="5" height="3.0"/><rect x="1979" y="704.7" width="5" height="30.2"/><rect x="1994" y="709.8" width="5" height="12.5"/><rect x="1999" y="723.6" width="5" height="9.4"/><rect x="2004" y="733.0" width="5" height="4.2"/><rect x="2009" y="738.7" width="5" height="20.8"/><rect x="2020" y="714.4" width="5" height="3.0"/><rect x="2025" y="717.9" width="5" height="4.3"/><rect x="2030" y="724.3" width="5" height="71.1"/><rect x="2035" y="796.4" width="5" height="5.0"/><rect x="2055" y="745.6" width="5" height="28.8"/><rect x="2076" y="706.5" width="5" height="3.0"/><rect x="2081" y="707.5" width="5" height="15.8"/><rect x="2086" y="723.4" width="5" height="37.0"/><rect x="2096" y="731.0" width="5" height="3.0"/><rect x="2101" y="735.4" width="5" height="22.2"/><rect x="2112" y="743.4" width="5" height="8.8"/><rect x="2127" y="686.8" width="5" height="3.0"/><rect x="2137" y="613.5" width="5" height="37.8"/><rect x="2147" y="595.7" width="5" height="35.5"/><rect x="2158" y="608.4" width="5" height="4.7"/><rect x="2163" y="613.5" width="5" height="9.9"/><rect x="2183" y="601.5" width="5" height="8.8"/><rect x="2194" y="597.5" width="5" height="59.0"/><rect x="2209" y="630.3" width="5" height="22.4"/><rect x="2214" y="652.0" width="5" height="3.0"/><rect x="2224" y="639.7" width="5" height="5.7"/><rect x="2229" y="645.3" width="5" height="8.1"/><rect x="2234" y="654.1" width="5" height="7.4"/><rect x="2245" y="659.5" width="5" height="5.0"/><rect x="2255" y="611.6" width="5" height="3.0"/><rect x="2260" y="613.5" width="5" height="28.9"/><rect x="2265" y="643.2" width="5" height="6.2"/><rect x="2270" y="650.3" width="5" height="9.2"/><rect x="2275" y="658.6" width="5" height="28.7"/><rect x="2291" y="663.6" width="5" height="7.9"/><rect x="2301" y="654.4" width="5" height="14.2"/><rect x="2306" y="669.2" width="5" height="3.3"/><rect x="2316" y="659.8" width="5" height="4.7"/><rect x="2326" y="618.6" width="5" height="7.1"/><rect x="2337" y="601.2" width="5" height="16.0"/><rect x="2342" y="617.4" width="5" height="3.0"/><rect x="2347" y="620.4" width="5" height="5.7"/><rect x="2357" y="613.6" width="5" height="11.3"/><rect x="2367" y="622.5" width="5" height="7.4"/><rect x="2373" y="629.9" width="5" height="15.3"/><rect x="2378" y="645.4" width="5" height="3.0"/><rect x="2393" y="626.4" width="5" height="10.6"/></g><g fill="#6ba583"><rect x="26" y="863.5" width="2" height="8.6"/><rect x="36" y="869.0" width="2" height="17.3"/><rect x="47" y="843.5" width="2" height="20.5"/><rect x="67" y="852.9" width="2" height="1.3"/><rect x="93" y="904.8" width="2" height="1.3"/><rect x="108" y="889.7" width="2" height="20.7"/><rect x="123" y="874.6" width="2" height="16.8"/><rect x="139" y="853.5" width="2" height="28.1"/><rect x="149" y="858.6" width="2" height="6.6"/><rect x="159" y="849.4" width="2" height="3.0"/><rect x="164" y="784.6" width="2" height="60.7"/><rect x="174" y="769.9" width="2" height="23.2"/><rect x="179" y="700.7" width="2" height="65.2"/><rect x="185" y="597.3" width="2" height="99.2"/><rect x="190" y="545.4" width="2" height="47.9"/><rect x="205" y="555.6" width="2" height="89.0"/><rect x="215" y="577.5" width="2" height="3.9"/><rect x="226" y="608.0" width="2" height="2.0"/><rect x="231" y="594.5" width="2" height="9.6"/><rect x="236" y="586.9" width="2" height="3.5"/><rect x="241" y="533.5" width="2" height="50.7"/><rect x="246" y="521.6" width="2" height="6.6"/><rect x="266" y="537.7" width="2" height="36.6"/><rect x="277" y="529.2" width="2" height="14.1"/><rect x="292" y="605.8" width="2" height="13.7"/><rect x="297" y="595.8" width="2" height="7.3"/><rect x="318" y="600.5" width="2" height="50.7"/><rect x="328" y="551.4" width="2" height="52.6"/><rect x="338" y="548.6" width="2" height="22.6"/><rect x="343" y="529.2" width="2" height="14.1"/><rect x="353" y="514.6" width="2" height="13.5"/><rect x="364" y="530.7" width="2" height="11.5"/><rect x="369" y="520.3" width="2" height="6.0"/><rect x="374" y="441.6" width="2" height="74.7"/><rect x="379" y="401.6" width="2" height="36.0"/><rect x="389" y="392.6" width="2" height="11.5"/><rect x="394" y="372.8" width="2" height="14.5"/><rect x="399" y="313.7" width="2" height="56.4"/><rect x="410" y="396.0" width="2" height="48.3"/><rect x="415" y="369.5" width="2" height="23.7"/><rect x="425" y="448.8" width="2" height="6.2"/><rect x="435" y="421.4" width="2" height="30.7"/><rect x="445" y="468.4" width="2" height="13.9"/><rect x="456" y="406.3" width="2" height="59.2"/><rect x="461" y="384.5" width="2" height="16.9"/><rect x="481" y="509.0" width="2" height="18.1"/><rect x="497" y="663.9" width="2" height="3.5"/><rect x="507" y="720.5" width="2" height="37.9"/><rect x="512" y="672.8" width="2" height="42.4"/><rect x="522" y="663.3" width="2" height="19.8"/><rect x="543" y="703.9" width="2" height="10.2"/><rect x="548" y="695.6" width="2" height="3.5"/><rect x="563" y="721.4" width="2" height="7.9"/><rect x="578" y="696.3" width="2" height="25.8"/><rect x="594" y="685.6" width="2" height="10.3"/><rect x="604" y="649.7" width="2" height="27.5"/><rect x="635" y="705.4" width="2" height="29.0"/><rect x="655" y="796.5" width="2" height="1.1"/><rect x="670" y="775.8" width="2" height="25.6"/><rect x="676" y="750.7" width="2" height="21.1"/><rect x="691" y="788.8" width="2" height="5.6"/><rect x="696" y="776.7" width="2" height="9.2"/><rect x="711" y="796.5" width="2" height="1.1"/><rect x="737" y="850.7" width="2" height="8.8"/><rect x="747" y="828.6" width="2" height="20.0"/><rect x="773" y="829.5" width="2" height="26.9"/><rect x="778" y="819.5" width="2" height="5.4"/><rect x="798" y="821.4" width="2" height="3.5"/><rect x="809" y="795.0" width="2" height="20.5"/><rect x="819" y="765.4" width="2" height="24.1"/><rect x="824" y="732.4" width="2" height="29.0"/><rect x="829" y="724.8" width="2" height="3.0"/><rect x="834" y="689.4" width="2" height="31.8"/><rect x="865" y="857.7" width="2" height="7.1"/><rect x="875" y="844.5" width="2" height="20.9"/><rect x="890" y="819.4" width="2" height="34.7"/><rect x="901" y="821.2" width="2" height="11.1"/><rect x="926" y="823.5" width="2" height="28.6"/><rect x="936" y="780.7" width="2" height="36.6"/><rect x="962" y="801.4" width="2" height="15.4"/><rect x="977" y="832.9" width="2" height="5.1"/><rect x="993" y="838.6" width="2" height="7.5"/><rect x="1018" y="819.4" width="2" height="64.3"/><rect x="1028" y="809.5" width="2" height="9.6"/><rect x="1039" y="788.2" width="2" height="25.2"/><rect x="1069" y="803.3" width="2" height="11.1"/><rect x="1074" y="795.8" width="2" height="4.1"/><rect x="1080" y="787.3" width="2" height="4.1"/><rect x="1095" y="807.5" width="2" height="0.7"/><rect x="1100" y="794.5" width="2" height="9.6"/><rect x="1110" y="801.4" width="2" height="4.5"/><rect x="1131" y="816.5" width="2" height="3.9"/><rect x="1167" y="915.6" width="2" height="4.5"/><rect x="1177" y="936.7" width="2" height="14.5"/><rect x="1182" y="930.7" width="2" height="1.7"/><rect x="1187" y="914.3" width="2" height="12.0"/><rect x="1197" y="907.5" width="2" height="7.9"/><rect x="1228" y="929.7" width="2" height="4.5"/><rect x="1243" y="921.6" width="2" height="6.4"/><rect x="1294" y="979.5" width="2" height="32.8"/><rect x="1315" y="981.4" width="2" height="12.6"/><rect x="1346" y="996.5" width="2" height="2.0"/><rect x="1351" y="975.4" width="2" height="17.1"/><rect x="1366" y="988.6" width="2" height="2.0"/><rect x="1376" y="976.3" width="2" height="18.6"/><rect x="1392" y="941.4" width="2" height="25.6"/><rect x="1412" y="940.3" width="2" height="18.8"/><rect x="1422" y="935.2" width="2" height="9.2"/><rect x="1432" y="870.5" width="2" height="68.6"/><rect x="1448" y="858.4" width="2" height="13.0"/><rect x="1453" y="843.3" width="2" height="11.1"/><rect x="1468" y="859.7" width="2" height="4.5"/><rect x="1494" y="864.5" width="2" height="23.0"/><rect x="1499" y="858.8" width="2" height="2.2"/><rect x="1504" y="838.0" width="2" height="16.4"/><rect x="1514" y="809.7" width="2" height="33.4"/><rect x="1525" y="812.6" width="2" height="7.3"/><rect x="1530" y="797.8" width="2" height="10.3"/><rect x="1535" y="792.8" width="2" height="1.1"/><rect x="1545" y="746.3" width="2" height="47.3"/><rect x="1550" y="715.4" width="2" height="25.4"/><rect x="1555" y="680.9" width="2" height="30.0"/><rect x="1565" y="664.8" width="2" height="11.5"/><rect x="1576" y="633.5" width="2" height="43.7"/><rect x="1581" y="539.7" width="2" height="87.1"/><rect x="1586" y="531.2" width="2" height="3.2"/><rect x="1591" y="474.6" width="2" height="53.5"/><rect x="1606" y="532.8" width="2" height="27.5"/><rect x="1611" y="488.8" width="2" height="39.4"/><rect x="1627" y="541.6" width="2" height="23.4"/><rect x="1637" y="509.2" width="2" height="38.8"/><rect x="1658" y="668.6" width="2" height="7.7"/><rect x="1678" y="652.6" width="2" height="44.5"/><rect x="1693" y="663.9" width="2" height="9.2"/><rect x="1698" y="608.2" width="2" height="51.7"/><rect x="1714" y="748.8" width="2" height="5.4"/><rect x="1734" y="971.3" width="2" height="82.0"/><rect x="1755" y="1035.4" width="2" height="9.0"/><rect x="1760" y="1026.5" width="2" height="4.1"/><rect x="1765" y="966.4" width="2" height="55.1"/><rect x="1785" y="967.5" width="2" height="43.0"/><rect x="1790" y="958.6" width="2" height="4.5"/><rect x="1801" y="959.3" width="2" height="3.1"/><rect x="1821" y="981.5" width="2" height="22.3"/><rect x="1831" y="969.6" width="2" height="4.8"/><rect x="1837" y="950.5" width="2" height="13.3"/><rect x="1847" y="940.5" width="2" height="6.6"/><rect x="1857" y="851.6" width="2" height="91.0"/><rect x="1867" y="846.7" width="2" height="23.4"/><rect x="1908" y="849.7" width="2" height="60.5"/><rect x="1918" y="797.8" width="2" height="52.0"/><rect x="1939" y="813.7" width="2" height="37.5"/><rect x="1944" y="805.8" width="2" height="3.5"/><rect x="1949" y="799.7" width="2" height="2.4"/><rect x="1954" y="778.4" width="2" height="17.1"/><rect x="1959" y="764.8" width="2" height="5.4"/><rect x="1975" y="706.7" width="2" height="57.3"/><rect x="1985" y="719.0" width="2" height="13.9"/><rect x="1990" y="711.8" width="2" height="2.2"/><rect x="2016" y="716.5" width="2" height="40.5"/><rect x="2041" y="791.4" width="2" height="7.0"/><rect x="2046" y="758.3" width="2" height="29.1"/><rect x="2051" y="747.6" width="2" height="6.8"/><rect x="2062" y="756.5" width="2" height="15.8"/><rect x="2067" y="735.5" width="2" height="17.7"/><rect x="2072" y="709.5" width="2" height="21.7"/><rect x="2092" y="734.4" width="2" height="27.1"/><rect x="2108" y="744.5" width="2" height="11.1"/><rect x="2118" y="730.3" width="2" height="21.3"/><rect x="2123" y="690.1" width="2" height="36.3"/><rect x="2133" y="615.5" width="2" height="69.9"/><rect x="2143" y="599.5" width="2" height="51.2"/><rect x="2154" y="610.4" width="2" height="18.8"/><rect x="2169" y="619.6" width="2" height="3.8"/><rect x="2174" y="610.5" width="2" height="4.8"/><rect x="2179" y="603.5" width="2" height="2.7"/><rect x="2189" y="599.5" width="2" height="9.7"/><rect x="2200" y="634.6" width="2" height="20.8"/><rect x="2220" y="641.5" width="2" height="10.9"/><rect x="2251" y="615.5" width="2" height="46.9"/><rect x="2281" y="675.6" width="2" height="9.7"/><rect x="2287" y="666.7" width="2" height="4.5"/><rect x="2297" y="655.4" width="2" height="15.1"/><rect x="2312" y="661.8" width="2" height="10.6"/><rect x="2322" y="620.3" width="2" height="42.1"/><rect x="2333" y="602.5" width="2" height="20.5"/><rect x="2353" y="617.3" width="2" height="6.8"/><rect x="2384" y="640.4" width="2" height="6.9"/><rect x="2389" y="628.4" width="2" height="7.7"/><rect x="2399" y="606.4" width="2" height="29.0"/><rect x="2404" y="546.3" width="2" height="56.8"/><rect x="2409" y="508.5" width="2" height="32.8"/></g><g fill="#d75442"><rect x="31" y="863.5" width="2" height="22.8"/><rect x="62" y="844.5" width="2" height="8.8"/><rect x="77" y="856.3" width="2" height="11.1"/><rect x="82" y="872.4" width="2" height="40.0"/><rect x="98" y="904.8" width="2" height="3.2"/><rect x="113" y="889.7" width="2" height="1.7"/><rect x="128" y="874.6" width="2" height="4.5"/><rect x="144" y="853.5" width="2" height="11.7"/><rect x="169" y="784.6" width="2" height="7.7"/><rect x="195" y="545.4" width="2" height="63.0"/><rect x="200" y="612.4" width="2" height="29.0"/><rect x="210" y="558.6" width="2" height="22.8"/><rect x="220" y="577.5" width="2" height="32.6"/><rect x="256" y="524.5" width="2" height="0.7"/><rect x="261" y="529.2" width="2" height="45.1"/><rect x="272" y="532.9" width="2" height="8.5"/><rect x="282" y="529.2" width="2" height="60.7"/><rect x="287" y="596.3" width="2" height="23.7"/><rect x="307" y="595.2" width="2" height="12.0"/><rect x="312" y="612.4" width="2" height="36.9"/><rect x="323" y="600.5" width="2" height="3.5"/><rect x="333" y="551.4" width="2" height="20.9"/><rect x="358" y="515.6" width="2" height="26.6"/><rect x="384" y="399.7" width="2" height="3.0"/><rect x="405" y="314.6" width="2" height="130.5"/><rect x="420" y="372.8" width="2" height="84.7"/><rect x="430" y="449.5" width="2" height="2.6"/><rect x="440" y="421.4" width="2" height="60.0"/><rect x="466" y="385.4" width="2" height="13.9"/><rect x="471" y="404.3" width="2" height="56.6"/><rect x="476" y="467.5" width="2" height="58.8"/><rect x="486" y="508.4" width="2" height="17.9"/><rect x="491" y="529.2" width="2" height="139.2"/><rect x="502" y="664.8" width="2" height="94.1"/><rect x="517" y="672.8" width="2" height="10.3"/><rect x="527" y="665.8" width="2" height="4.1"/><rect x="532" y="672.0" width="2" height="25.1"/><rect x="537" y="702.6" width="2" height="11.5"/><rect x="558" y="695.6" width="2" height="35.6"/><rect x="609" y="650.7" width="2" height="17.3"/><rect x="619" y="671.4" width="2" height="13.5"/><rect x="624" y="688.4" width="2" height="30.9"/><rect x="630" y="723.7" width="2" height="8.8"/><rect x="640" y="705.4" width="2" height="12.0"/><rect x="645" y="721.8" width="2" height="4.5"/><rect x="650" y="730.3" width="2" height="68.8"/><rect x="660" y="797.8" width="2" height="4.5"/><rect x="681" y="750.7" width="2" height="15.4"/><rect x="686" y="769.5" width="2" height="26.6"/><rect x="701" y="776.7" width="2" height="6.8"/><rect x="706" y="788.4" width="2" height="10.2"/><rect x="722" y="801.6" width="2" height="41.8"/><rect x="727" y="848.2" width="2" height="8.5"/><rect x="757" y="828.6" width="2" height="8.1"/><rect x="768" y="844.6" width="2" height="11.8"/><rect x="793" y="824.6" width="2" height="0.9"/><rect x="839" y="688.4" width="2" height="5.4"/><rect x="844" y="697.8" width="2" height="7.3"/><rect x="849" y="707.8" width="2" height="9.2"/><rect x="855" y="720.5" width="2" height="30.0"/><rect x="860" y="754.3" width="2" height="108.8"/><rect x="870" y="857.7" width="2" height="9.2"/><rect x="885" y="844.8" width="2" height="10.2"/><rect x="895" y="819.4" width="2" height="12.6"/><rect x="906" y="820.7" width="2" height="15.4"/><rect x="921" y="835.8" width="2" height="16.4"/><rect x="942" y="780.7" width="2" height="0.7"/><rect x="947" y="785.8" width="2" height="31.5"/><rect x="967" y="800.5" width="2" height="16.8"/><rect x="972" y="822.6" width="2" height="14.5"/><rect x="982" y="832.9" width="2" height="9.2"/><rect x="1003" y="842.6" width="2" height="5.8"/><rect x="1008" y="853.3" width="2" height="24.3"/><rect x="1013" y="882.6" width="2" height="0.7"/><rect x="1023" y="817.5" width="2" height="2.6"/><rect x="1034" y="809.5" width="2" height="3.5"/><rect x="1044" y="788.2" width="2" height="21.1"/><rect x="1085" y="787.3" width="2" height="11.7"/><rect x="1090" y="802.8" width="2" height="4.5"/><rect x="1105" y="794.5" width="2" height="10.5"/><rect x="1121" y="797.7" width="2" height="7.3"/><rect x="1126" y="808.6" width="2" height="11.5"/><rect x="1141" y="812.4" width="2" height="14.7"/><rect x="1146" y="831.1" width="2" height="3.2"/><rect x="1151" y="837.8" width="2" height="1.5"/><rect x="1156" y="842.6" width="2" height="40.7"/><rect x="1161" y="887.3" width="2" height="31.3"/><rect x="1172" y="916.5" width="2" height="36.0"/><rect x="1192" y="912.8" width="2" height="2.6"/><rect x="1202" y="908.4" width="2" height="5.1"/><rect x="1213" y="919.4" width="2" height="3.0"/><rect x="1218" y="926.5" width="2" height="1.1"/><rect x="1223" y="932.6" width="2" height="2.0"/><rect x="1238" y="926.7" width="2" height="0.7"/><rect x="1248" y="921.6" width="2" height="5.8"/><rect x="1253" y="932.4" width="2" height="1.1"/><rect x="1259" y="938.4" width="2" height="2.8"/><rect x="1274" y="940.3" width="2" height="6.0"/><rect x="1284" y="947.5" width="2" height="29.6"/><rect x="1289" y="981.4" width="2" height="30.9"/><rect x="1300" y="977.7" width="2" height="13.5"/><rect x="1320" y="981.4" width="2" height="9.8"/><rect x="1330" y="996.5" width="2" height="4.9"/><rect x="1356" y="976.7" width="2" height="4.5"/><rect x="1361" y="985.6" width="2" height="3.5"/><rect x="1371" y="988.6" width="2" height="6.4"/><rect x="1397" y="941.4" width="2" height="0.7"/><rect x="1402" y="946.5" width="2" height="3.9"/><rect x="1407" y="954.5" width="2" height="3.7"/><rect x="1417" y="940.5" width="2" height="3.0"/><rect x="1427" y="934.3" width="2" height="5.8"/><rect x="1443" y="870.5" width="2" height="1.7"/><rect x="1458" y="843.3" width="2" height="20.0"/><rect x="1479" y="865.4" width="2" height="11.7"/><rect x="1489" y="883.3" width="2" height="0.7"/><rect x="1509" y="836.7" width="2" height="4.5"/><rect x="1519" y="809.7" width="2" height="10.2"/><rect x="1540" y="790.5" width="2" height="2.6"/><rect x="1571" y="662.0" width="2" height="16.8"/><rect x="1596" y="474.6" width="2" height="65.4"/><rect x="1601" y="543.5" width="2" height="16.8"/><rect x="1617" y="483.7" width="2" height="77.5"/><rect x="1632" y="545.8" width="2" height="3.2"/><rect x="1642" y="510.1" width="2" height="26.0"/><rect x="1647" y="545.4" width="2" height="54.5"/><rect x="1652" y="609.5" width="2" height="65.8"/><rect x="1668" y="667.1" width="2" height="29.0"/><rect x="1683" y="652.6" width="2" height="23.4"/><rect x="1704" y="608.2" width="2" height="21.8"/><rect x="1709" y="635.4" width="2" height="120.7"/><rect x="1719" y="748.8" width="2" height="3.4"/><rect x="1724" y="756.7" width="2" height="15.4"/><rect x="1729" y="775.0" width="2" height="277.5"/><rect x="1739" y="971.3" width="2" height="39.2"/><rect x="1750" y="1011.7" width="2" height="35.6"/><rect x="1770" y="965.7" width="2" height="7.6"/><rect x="1780" y="980.5" width="2" height="29.0"/><rect x="1796" y="960.7" width="2" height="2.7"/><rect x="1806" y="958.6" width="2" height="21.5"/><rect x="1816" y="982.7" width="2" height="19.6"/><rect x="1852" y="939.8" width="2" height="2.4"/><rect x="1862" y="852.6" width="2" height="18.5"/><rect x="1872" y="846.7" width="2" height="5.4"/><rect x="1877" y="857.7" width="2" height="34.3"/><rect x="1903" y="895.4" width="2" height="13.5"/><rect x="1913" y="847.7" width="2" height="1.7"/><rect x="1923" y="798.6" width="2" height="20.2"/><rect x="1929" y="823.7" width="2" height="27.1"/><rect x="1980" y="706.7" width="2" height="26.2"/><rect x="1995" y="711.8" width="2" height="8.5"/><rect x="2000" y="725.6" width="2" height="5.4"/><rect x="2010" y="740.7" width="2" height="16.8"/><rect x="2031" y="726.3" width="2" height="67.1"/><rect x="2036" y="798.4" width="2" height="1.0"/><rect x="2056" y="747.6" width="2" height="24.8"/><rect x="2082" y="709.5" width="2" height="11.8"/><rect x="2087" y="725.4" width="2" height="33.0"/><rect x="2102" y="737.4" width="2" height="18.2"/><rect x="2113" y="745.4" width="2" height="4.8"/><rect x="2138" y="615.5" width="2" height="33.8"/><rect x="2148" y="597.7" width="2" height="31.5"/><rect x="2159" y="610.4" width="2" height="0.7"/><rect x="2164" y="615.5" width="2" height="5.9"/><rect x="2184" y="603.5" width="2" height="4.8"/><rect x="2195" y="599.5" width="2" height="55.0"/><rect x="2210" y="632.3" width="2" height="18.4"/><rect x="2225" y="641.7" width="2" height="1.7"/><rect x="2230" y="647.3" width="2" height="4.1"/><rect x="2235" y="656.1" width="2" height="3.4"/><rect x="2246" y="661.5" width="2" height="1.0"/><rect x="2261" y="615.5" width="2" height="24.9"/><rect x="2266" y="645.2" width="2" height="2.2"/><rect x="2271" y="652.3" width="2" height="5.2"/><rect x="2276" y="660.6" width="2" height="24.7"/><rect x="2292" y="665.6" width="2" height="3.9"/><rect x="2302" y="656.4" width="2" height="10.2"/><rect x="2317" y="661.8" width="2" height="0.7"/><rect x="2327" y="620.6" width="2" height="3.1"/><rect x="2338" y="603.2" width="2" height="12.0"/><rect x="2348" y="622.4" width="2" height="1.7"/><rect x="2358" y="615.6" width="2" height="7.3"/><rect x="2368" y="624.5" width="2" height="3.4"/><rect x="2374" y="631.9" width="2" height="11.3"/><rect x="2394" y="628.4" width="2" height="6.6"/></g></g>
<g clip-path="url(#cm)"><g fill="#ef5350" fill-opacity="0.5"><rect x="16" y="1190.2" width="3" height="40.8"/><rect x="21" y="1217.0" width="3" height="14.0"/><rect x="31" y="1189.0" width="3" height="42.0"/><rect x="52" y="1207.9" width="3" height="23.1"/><rect x="57" y="1217.0" width="3" height="14.0"/><rect x="62" y="1211.1" width="3" height="19.9"/><rect x="72" y="1180.1" width="3" height="50.9"/><rect x="77" y="1180.1" width="3" height="50.9"/><rect x="82" y="1170.9" width="3" height="60.1"/><rect x="98" y="1209.9" width="3" height="21.1"/><rect x="103" y="1206.1" width="3" height="24.9"/><rect x="113" y="1206.9" width="3" height="24.1"/><rect x="128" y="1189.0" width="3" height="42.0"/><rect x="134" y="1212.0" width="3" height="19.0"/><rect x="144" y="1148.0" width="3" height="83.0"/><rect x="169" y="1128.0" width="3" height="103.0"/><rect x="195" y="1086.0" width="3" height="145.0"/><rect x="200" y="1199.1" width="3" height="31.9"/><rect x="210" y="1170.9" width="3" height="60.1"/><rect x="220" y="1166.0" width="3" height="65.0"/><rect x="251" y="1200.1" width="3" height="30.9"/><rect x="256" y="1199.1" width="3" height="31.9"/><rect x="261" y="1147.1" width="3" height="83.9"/><rect x="272" y="1206.1" width="3" height="24.9"/><rect x="282" y="1188.2" width="3" height="42.8"/><rect x="287" y="1170.1" width="3" height="60.9"/><rect x="302" y="1202.9" width="3" height="28.1"/><rect x="307" y="1220.0" width="3" height="11.0"/><rect x="313" y="1201.1" width="3" height="29.9"/><rect x="323" y="1205.1" width="3" height="25.9"/><rect x="333" y="1197.0" width="3" height="34.0"/><rect x="348" y="1191.2" width="3" height="39.8"/><rect x="359" y="1182.1" width="3" height="48.9"/><rect x="384" y="1204.1" width="3" height="26.9"/><rect x="405" y="1113.1" width="3" height="117.9"/><rect x="420" y="1191.2" width="3" height="39.8"/><rect x="430" y="1177.3" width="3" height="53.7"/><rect x="440" y="1206.1" width="3" height="24.9"/><rect x="451" y="1213.0" width="3" height="18.0"/><rect x="466" y="1183.1" width="3" height="47.9"/><rect x="471" y="1170.9" width="3" height="60.1"/><rect x="476" y="1183.1" width="3" height="47.9"/><rect x="486" y="1209.9" width="3" height="21.1"/><rect x="492" y="1157.0" width="3" height="74.0"/><rect x="502" y="1151.0" width="3" height="80.0"/><rect x="517" y="1203.1" width="3" height="27.9"/><rect x="527" y="1217.0" width="3" height="14.0"/><rect x="532" y="1200.1" width="3" height="30.9"/><rect x="538" y="1209.1" width="3" height="21.9"/><rect x="558" y="1204.1" width="3" height="26.9"/><rect x="568" y="1216.1" width="3" height="14.9"/><rect x="573" y="1219.2" width="3" height="11.8"/><rect x="584" y="1215.1" width="3" height="15.9"/><rect x="609" y="1189.2" width="3" height="41.8"/><rect x="619" y="1180.1" width="3" height="50.9"/><rect x="624" y="1200.1" width="3" height="30.9"/><rect x="630" y="1219.2" width="3" height="11.8"/><rect x="640" y="1219.2" width="3" height="11.8"/><rect x="645" y="1208.1" width="3" height="22.9"/><rect x="650" y="1187.2" width="3" height="43.8"/><rect x="660" y="1203.1" width="3" height="27.9"/><rect x="681" y="1214.1" width="3" height="16.9"/><rect x="686" y="1209.1" width="3" height="21.9"/><rect x="701" y="1223.2" width="3" height="7.8"/><rect x="706" y="1221.2" width="3" height="9.8"/><rect x="717" y="1218.2" width="3" height="12.8"/><rect x="722" y="1200.1" width="3" height="30.9"/><rect x="727" y="1205.1" width="3" height="25.9"/><rect x="732" y="1222.2" width="3" height="8.8"/><rect x="742" y="1225.2" width="3" height="5.8"/><rect x="757" y="1216.1" width="3" height="14.9"/><rect x="763" y="1220.2" width="3" height="10.8"/><rect x="768" y="1213.1" width="3" height="17.9"/><rect x="783" y="1216.1" width="3" height="14.9"/><rect x="788" y="1221.2" width="3" height="9.8"/><rect x="793" y="1215.1" width="3" height="15.9"/><rect x="839" y="1206.1" width="3" height="24.9"/><rect x="844" y="1207.1" width="3" height="23.9"/><rect x="850" y="1207.1" width="3" height="23.9"/><rect x="855" y="1200.1" width="3" height="30.9"/><rect x="860" y="1104.1" width="3" height="126.9"/><rect x="870" y="1174.1" width="3" height="56.9"/><rect x="880" y="1212.1" width="3" height="18.9"/><rect x="885" y="1215.1" width="3" height="15.9"/><rect x="896" y="1196.0" width="3" height="35.0"/><rect x="906" y="1212.1" width="3" height="18.9"/><rect x="921" y="1213.1" width="3" height="17.9"/><rect x="942" y="1215.1" width="3" height="15.9"/><rect x="947" y="1189.2" width="3" height="41.8"/><rect x="952" y="1220.2" width="3" height="10.8"/><rect x="967" y="1202.1" width="3" height="28.9"/><rect x="972" y="1213.1" width="3" height="17.9"/><rect x="982" y="1209.1" width="3" height="21.9"/><rect x="988" y="1221.2" width="3" height="9.8"/><rect x="998" y="1209.1" width="3" height="21.9"/><rect x="1003" y="1221.2" width="3" height="9.8"/><rect x="1008" y="1188.2" width="3" height="42.8"/><rect x="1013" y="1208.1" width="3" height="22.9"/><rect x="1023" y="1186.2" width="3" height="44.8"/><rect x="1034" y="1208.1" width="3" height="22.9"/><rect x="1044" y="1209.1" width="3" height="21.9"/><rect x="1049" y="1211.1" width="3" height="19.9"/><rect x="1059" y="1226.2" width="3" height="4.8"/><rect x="1064" y="1226.2" width="3" height="4.8"/><rect x="1085" y="1223.2" width="3" height="7.8"/><rect x="1090" y="1213.1" width="3" height="17.9"/><rect x="1105" y="1222.2" width="3" height="8.8"/><rect x="1121" y="1222.2" width="3" height="8.8"/><rect x="1126" y="1214.1" width="3" height="16.9"/><rect x="1141" y="1221.2" width="3" height="9.8"/><rect x="1146" y="1218.2" width="3" height="12.8"/><rect x="1151" y="1223.2" width="3" height="7.8"/><rect x="1156" y="1203.1" width="3" height="27.9"/><rect x="1161" y="1165.0" width="3" height="66.0"/><rect x="1172" y="1219.2" width="3" height="11.8"/><rect x="1192" y="1216.1" width="3" height="14.9"/><rect x="1202" y="1223.2" width="3" height="7.8"/><rect x="1208" y="1224.2" width="3" height="6.8"/><rect x="1213" y="1225.2" width="3" height="5.8"/><rect x="1218" y="1222.2" width="3" height="8.8"/><rect x="1223" y="1213.1" width="3" height="17.9"/><rect x="1238" y="1227.2" width="3" height="3.8"/><rect x="1248" y="1221.2" width="3" height="9.8"/><rect x="1254" y="1219.2" width="3" height="11.8"/><rect x="1259" y="1225.2" width="3" height="5.8"/><rect x="1269" y="1219.2" width="3" height="11.8"/><rect x="1274" y="1226.2" width="3" height="4.8"/><rect x="1284" y="1195.0" width="3" height="36.0"/><rect x="1289" y="1195.0" width="3" height="36.0"/><rect x="1300" y="1202.1" width="3" height="28.9"/><rect x="1310" y="1225.2" width="3" height="5.8"/><rect x="1320" y="1215.1" width="3" height="15.9"/><rect x="1330" y="1221.2" width="3" height="9.8"/><rect x="1356" y="1224.2" width="3" height="6.8"/><rect x="1361" y="1219.2" width="3" height="11.8"/><rect x="1371" y="1220.2" width="3" height="10.8"/><rect x="1381" y="1224.2" width="3" height="6.8"/><rect x="1397" y="1218.2" width="3" height="12.8"/><rect x="1402" y="1200.1" width="3" height="30.9"/><rect x="1407" y="1213.1" width="3" height="17.9"/><rect x="1417" y="1223.2" width="3" height="7.8"/><rect x="1427" y="1220.2" width="3" height="10.8"/><rect x="1443" y="1207.1" width="3" height="23.9"/><rect x="1458" y="1214.1" width="3" height="16.9"/><rect x="1463" y="1212.1" width="3" height="18.9"/><rect x="1473" y="1219.2" width="3" height="11.8"/><rect x="1479" y="1219.2" width="3" height="11.8"/><rect x="1484" y="1194.0" width="3" height="37.0"/><rect x="1489" y="1227.2" width="3" height="3.8"/><rect x="1509" y="1221.2" width="3" height="9.8"/><rect x="1519" y="1207.1" width="3" height="23.9"/><rect x="1540" y="1212.1" width="3" height="18.9"/><rect x="1571" y="1207.1" width="3" height="23.9"/><rect x="1596" y="1197.0" width="3" height="34.0"/><rect x="1601" y="1201.1" width="3" height="29.9"/><rect x="1617" y="1196.0" width="3" height="35.0"/><rect x="1622" y="1199.1" width="3" height="31.9"/><rect x="1632" y="1219.2" width="3" height="11.8"/><rect x="1642" y="1211.1" width="3" height="19.9"/><rect x="1647" y="1198.0" width="3" height="33.0"/><rect x="1652" y="1161.0" width="3" height="70.0"/><rect x="1663" y="1202.1" width="3" height="28.9"/><rect x="1668" y="1217.1" width="3" height="13.9"/><rect x="1673" y="1206.1" width="3" height="24.9"/><rect x="1683" y="1195.0" width="3" height="36.0"/><rect x="1704" y="1210.1" width="3" height="20.9"/><rect x="1709" y="1183.1" width="3" height="47.9"/><rect x="1719" y="1185.1" width="3" height="45.9"/><rect x="1724" y="1172.1" width="3" height="58.9"/><rect x="1729" y="985.1" width="3" height="245.9"/><rect x="1739" y="1172.1" width="3" height="58.9"/><rect x="1750" y="1111.1" width="3" height="119.9"/><rect x="1770" y="1120.0" width="3" height="111.0"/><rect x="1775" y="1179.1" width="3" height="51.9"/><rect x="1780" y="1192.2" width="3" height="38.8"/><rect x="1796" y="1185.1" width="3" height="45.9"/><rect x="1806" y="1194.0" width="3" height="37.0"/><rect x="1811" y="1195.0" width="3" height="36.0"/><rect x="1816" y="1198.0" width="3" height="33.0"/><rect x="1852" y="1221.2" width="3" height="9.8"/><rect x="1862" y="1158.0" width="3" height="73.0"/><rect x="1872" y="1197.0" width="3" height="34.0"/><rect x="1877" y="1180.1" width="3" height="50.9"/><rect x="1888" y="1205.1" width="3" height="25.9"/><rect x="1893" y="1192.2" width="3" height="38.8"/><rect x="1903" y="1206.1" width="3" height="24.9"/><rect x="1913" y="1210.1" width="3" height="20.9"/><rect x="1924" y="1207.1" width="3" height="23.9"/><rect x="1929" y="1163.0" width="3" height="68.0"/><rect x="1964" y="1198.0" width="3" height="33.0"/><rect x="1980" y="1156.0" width="3" height="75.0"/><rect x="1995" y="1200.1" width="3" height="30.9"/><rect x="2000" y="1191.2" width="3" height="39.8"/><rect x="2005" y="1208.1" width="3" height="22.9"/><rect x="2010" y="1189.2" width="3" height="41.8"/><rect x="2021" y="1197.0" width="3" height="34.0"/><rect x="2026" y="1204.1" width="3" height="26.9"/><rect x="2031" y="1142.1" width="3" height="88.9"/><rect x="2036" y="1172.1" width="3" height="58.9"/><rect x="2056" y="1192.2" width="3" height="38.8"/><rect x="2077" y="1204.1" width="3" height="26.9"/><rect x="2082" y="1205.1" width="3" height="25.9"/><rect x="2087" y="1189.2" width="3" height="41.8"/><rect x="2097" y="1220.2" width="3" height="10.8"/><rect x="2103" y="1205.1" width="3" height="25.9"/><rect x="2113" y="1197.0" width="3" height="34.0"/><rect x="2128" y="1194.0" width="3" height="37.0"/><rect x="2138" y="1190.2" width="3" height="40.8"/><rect x="2149" y="1146.1" width="3" height="84.9"/><rect x="2159" y="1186.2" width="3" height="44.8"/><rect x="2164" y="1197.0" width="3" height="34.0"/><rect x="2184" y="1197.0" width="3" height="34.0"/><rect x="2195" y="1149.1" width="3" height="81.9"/><rect x="2210" y="1209.1" width="3" height="21.9"/><rect x="2215" y="1166.0" width="3" height="65.0"/><rect x="2225" y="1206.1" width="3" height="24.9"/><rect x="2230" y="1215.1" width="3" height="15.9"/><rect x="2235" y="1212.1" width="3" height="18.9"/><rect x="2246" y="1221.2" width="3" height="9.8"/><rect x="2256" y="1209.1" width="3" height="21.9"/><rect x="2261" y="1179.1" width="3" height="51.9"/><rect x="2266" y="1193.2" width="3" height="37.8"/><rect x="2271" y="1198.0" width="3" height="33.0"/><rect x="2276" y="1196.0" width="3" height="35.0"/><rect x="2292" y="1212.1" width="3" height="18.9"/><rect x="2302" y="1204.1" width="3" height="26.9"/><rect x="2307" y="1218.2" width="3" height="12.8"/><rect x="2317" y="1218.2" width="3" height="12.8"/><rect x="2328" y="1202.1" width="3" height="28.9"/><rect x="2338" y="1204.1" width="3" height="26.9"/><rect x="2343" y="1206.1" width="3" height="24.9"/><rect x="2348" y="1221.2" width="3" height="9.8"/><rect x="2358" y="1204.1" width="3" height="26.9"/><rect x="2368" y="1216.1" width="3" height="14.9"/><rect x="2374" y="1208.1" width="3" height="22.9"/><rect x="2379" y="1214.1" width="3" height="16.9"/><rect x="2394" y="1213.1" width="3" height="17.9"/></g><g fill="#26a69a" fill-opacity="0.5"><rect x="26" y="1212.1" width="3" height="18.9"/><rect x="36" y="1202.1" width="3" height="28.9"/><rect x="41" y="1202.9" width="3" height="28.1"/><rect x="47" y="1192.0" width="3" height="39.0"/><rect x="67" y="1202.9" width="3" height="28.1"/><rect x="87" y="1184.0" width="3" height="47.0"/><rect x="93" y="1209.1" width="3" height="21.9"/><rect x="108" y="1202.1" width="3" height="28.9"/><rect x="118" y="1213.0" width="3" height="18.0"/><rect x="123" y="1180.1" width="3" height="50.9"/><rect x="139" y="1169.1" width="3" height="61.9"/><rect x="149" y="1183.1" width="3" height="47.9"/><rect x="154" y="1196.0" width="3" height="35.0"/><rect x="159" y="1173.1" width="3" height="57.9"/><rect x="164" y="1104.1" width="3" height="126.9"/><rect x="174" y="1133.9" width="3" height="97.1"/><rect x="180" y="1117.0" width="3" height="114.0"/><rect x="185" y="1108.9" width="3" height="122.1"/><rect x="190" y="1034.9" width="3" height="196.1"/><rect x="205" y="1162.0" width="3" height="69.0"/><rect x="215" y="1173.1" width="3" height="57.9"/><rect x="226" y="1180.1" width="3" height="50.9"/><rect x="231" y="1185.1" width="3" height="45.9"/><rect x="236" y="1206.1" width="3" height="24.9"/><rect x="241" y="1193.0" width="3" height="38.0"/><rect x="246" y="1174.1" width="3" height="56.9"/><rect x="266" y="1175.1" width="3" height="55.9"/><rect x="277" y="1208.9" width="3" height="22.1"/><rect x="292" y="1204.1" width="3" height="26.9"/><rect x="297" y="1204.1" width="3" height="26.9"/><rect x="318" y="1197.0" width="3" height="34.0"/><rect x="328" y="1191.2" width="3" height="39.8"/><rect x="338" y="1207.1" width="3" height="23.9"/><rect x="343" y="1200.1" width="3" height="30.9"/><rect x="353" y="1195.0" width="3" height="36.0"/><rect x="364" y="1205.1" width="3" height="25.9"/><rect x="369" y="1213.0" width="3" height="18.0"/><rect x="374" y="1175.1" width="3" height="55.9"/><rect x="379" y="1176.1" width="3" height="54.9"/><rect x="389" y="1201.1" width="3" height="29.9"/><rect x="394" y="1208.1" width="3" height="22.9"/><rect x="399" y="1116.1" width="3" height="114.9"/><rect x="410" y="1183.1" width="3" height="47.9"/><rect x="415" y="1192.0" width="3" height="39.0"/><rect x="425" y="1180.1" width="3" height="50.9"/><rect x="435" y="1195.0" width="3" height="36.0"/><rect x="445" y="1195.0" width="3" height="36.0"/><rect x="456" y="1200.1" width="3" height="30.9"/><rect x="461" y="1199.1" width="3" height="31.9"/><rect x="481" y="1202.1" width="3" height="28.9"/><rect x="497" y="1165.0" width="3" height="66.0"/><rect x="507" y="1175.1" width="3" height="55.9"/><rect x="512" y="1191.2" width="3" height="39.8"/><rect x="522" y="1208.1" width="3" height="22.9"/><rect x="543" y="1190.2" width="3" height="40.8"/><rect x="548" y="1214.1" width="3" height="16.9"/><rect x="553" y="1215.1" width="3" height="15.9"/><rect x="563" y="1214.1" width="3" height="16.9"/><rect x="578" y="1213.1" width="3" height="17.9"/><rect x="589" y="1215.1" width="3" height="15.9"/><rect x="594" y="1221.2" width="3" height="9.8"/><rect x="599" y="1225.2" width="3" height="5.8"/><rect x="604" y="1207.1" width="3" height="23.9"/><rect x="614" y="1202.1" width="3" height="28.9"/><rect x="635" y="1213.1" width="3" height="17.9"/><rect x="655" y="1166.0" width="3" height="65.0"/><rect x="665" y="1216.1" width="3" height="14.9"/><rect x="671" y="1211.1" width="3" height="19.9"/><rect x="676" y="1201.1" width="3" height="29.9"/><rect x="691" y="1207.1" width="3" height="23.9"/><rect x="696" y="1202.1" width="3" height="28.9"/><rect x="711" y="1214.1" width="3" height="16.9"/><rect x="737" y="1225.2" width="3" height="5.8"/><rect x="747" y="1219.2" width="3" height="11.8"/><rect x="752" y="1214.1" width="3" height="16.9"/><rect x="773" y="1219.2" width="3" height="11.8"/><rect x="778" y="1217.1" width="3" height="13.9"/><rect x="798" y="1224.2" width="3" height="6.8"/><rect x="803" y="1222.2" width="3" height="8.8"/><rect x="809" y="1219.2" width="3" height="11.8"/><rect x="814" y="1220.2" width="3" height="10.8"/><rect x="819" y="1195.0" width="3" height="36.0"/><rect x="824" y="1166.0" width="3" height="65.0"/><rect x="829" y="1197.0" width="3" height="34.0"/><rect x="834" y="1188.2" width="3" height="42.8"/><rect x="865" y="1195.0" width="3" height="36.0"/><rect x="875" y="1186.2" width="3" height="44.8"/><rect x="890" y="1190.2" width="3" height="40.8"/><rect x="901" y="1214.1" width="3" height="16.9"/><rect x="911" y="1213.1" width="3" height="17.9"/><rect x="916" y="1222.2" width="3" height="8.8"/><rect x="926" y="1207.1" width="3" height="23.9"/><rect x="931" y="1214.1" width="3" height="16.9"/><rect x="936" y="1189.2" width="3" height="41.8"/><rect x="957" y="1220.2" width="3" height="10.8"/><rect x="962" y="1217.1" width="3" height="13.9"/><rect x="977" y="1216.1" width="3" height="14.9"/><rect x="993" y="1220.2" width="3" height="10.8"/><rect x="1018" y="1190.2" width="3" height="40.8"/><rect x="1029" y="1216.1" width="3" height="14.9"/><rect x="1039" y="1201.1" width="3" height="29.9"/><rect x="1054" y="1216.1" width="3" height="14.9"/><rect x="1069" y="1221.2" width="3" height="9.8"/><rect x="1075" y="1212.1" width="3" height="18.9"/><rect x="1080" y="1218.2" width="3" height="12.8"/><rect x="1095" y="1226.2" width="3" height="4.8"/><rect x="1100" y="1222.2" width="3" height="8.8"/><rect x="1110" y="1222.2" width="3" height="8.8"/><rect x="1115" y="1223.2" width="3" height="7.8"/><rect x="1131" y="1226.2" width="3" height="4.8"/><rect x="1136" y="1227.2" width="3" height="3.8"/><rect x="1167" y="1224.2" width="3" height="6.8"/><rect x="1177" y="1164.0" width="3" height="67.0"/><rect x="1182" y="1214.1" width="3" height="16.9"/><rect x="1187" y="1185.1" width="3" height="45.9"/><rect x="1197" y="1214.1" width="3" height="16.9"/><rect x="1228" y="1220.2" width="3" height="10.8"/><rect x="1233" y="1219.2" width="3" height="11.8"/><rect x="1243" y="1225.2" width="3" height="5.8"/><rect x="1264" y="1216.1" width="3" height="14.9"/><rect x="1279" y="1224.2" width="3" height="6.8"/><rect x="1294" y="1190.2" width="3" height="40.8"/><rect x="1305" y="1217.1" width="3" height="13.9"/><rect x="1315" y="1220.2" width="3" height="10.8"/><rect x="1325" y="1225.2" width="3" height="5.8"/><rect x="1335" y="1219.2" width="3" height="11.8"/><rect x="1340" y="1223.2" width="3" height="7.8"/><rect x="1346" y="1228.2" width="3" height="2.8"/><rect x="1351" y="1220.2" width="3" height="10.8"/><rect x="1366" y="1223.2" width="3" height="7.8"/><rect x="1376" y="1206.1" width="3" height="24.9"/><rect x="1387" y="1226.2" width="3" height="4.8"/><rect x="1392" y="1210.1" width="3" height="20.9"/><rect x="1412" y="1215.1" width="3" height="15.9"/><rect x="1422" y="1227.2" width="3" height="3.8"/><rect x="1433" y="1176.1" width="3" height="54.9"/><rect x="1438" y="1192.2" width="3" height="38.8"/><rect x="1448" y="1204.1" width="3" height="26.9"/><rect x="1453" y="1214.1" width="3" height="16.9"/><rect x="1468" y="1212.1" width="3" height="18.9"/><rect x="1494" y="1224.2" width="3" height="6.8"/><rect x="1499" y="1216.1" width="3" height="14.9"/><rect x="1504" y="1210.1" width="3" height="20.9"/><rect x="1514" y="1210.1" width="3" height="20.9"/><rect x="1525" y="1222.2" width="3" height="8.8"/><rect x="1530" y="1213.1" width="3" height="17.9"/><rect x="1535" y="1214.1" width="3" height="16.9"/><rect x="1545" y="1203.1" width="3" height="27.9"/><rect x="1550" y="1202.1" width="3" height="28.9"/><rect x="1555" y="1198.0" width="3" height="33.0"/><rect x="1560" y="1214.1" width="3" height="16.9"/><rect x="1566" y="1203.1" width="3" height="27.9"/><rect x="1576" y="1199.1" width="3" height="31.9"/><rect x="1581" y="1180.1" width="3" height="50.9"/><rect x="1586" y="1177.1" width="3" height="53.9"/><rect x="1591" y="1195.0" width="3" height="36.0"/><rect x="1606" y="1198.0" width="3" height="33.0"/><rect x="1612" y="1191.2" width="3" height="39.8"/><rect x="1627" y="1203.1" width="3" height="27.9"/><rect x="1637" y="1215.1" width="3" height="15.9"/><rect x="1658" y="1185.1" width="3" height="45.9"/><rect x="1678" y="1199.1" width="3" height="31.9"/><rect x="1688" y="1215.1" width="3" height="15.9"/><rect x="1693" y="1186.2" width="3" height="44.8"/><rect x="1698" y="1192.2" width="3" height="38.8"/><rect x="1714" y="1150.0" width="3" height="81.0"/><rect x="1734" y="946.1" width="3" height="284.9"/><rect x="1745" y="1138.1" width="3" height="92.9"/><rect x="1755" y="1180.1" width="3" height="50.9"/><rect x="1760" y="1167.1" width="3" height="63.9"/><rect x="1765" y="1139.1" width="3" height="91.9"/><rect x="1785" y="1179.1" width="3" height="51.9"/><rect x="1791" y="1156.0" width="3" height="75.0"/><rect x="1801" y="1196.0" width="3" height="35.0"/><rect x="1821" y="1205.1" width="3" height="25.9"/><rect x="1826" y="1213.1" width="3" height="17.9"/><rect x="1831" y="1206.1" width="3" height="24.9"/><rect x="1837" y="1187.2" width="3" height="43.8"/><rect x="1842" y="1197.0" width="3" height="34.0"/><rect x="1847" y="1216.1" width="3" height="14.9"/><rect x="1857" y="1156.0" width="3" height="75.0"/><rect x="1867" y="1193.2" width="3" height="37.8"/><rect x="1883" y="1211.1" width="3" height="19.9"/><rect x="1898" y="1211.1" width="3" height="19.9"/><rect x="1908" y="1163.0" width="3" height="68.0"/><rect x="1918" y="1191.2" width="3" height="39.8"/><rect x="1934" y="1210.1" width="3" height="20.9"/><rect x="1939" y="1197.0" width="3" height="34.0"/><rect x="1944" y="1159.0" width="3" height="72.0"/><rect x="1949" y="1200.1" width="3" height="30.9"/><rect x="1954" y="1202.1" width="3" height="28.9"/><rect x="1959" y="1193.2" width="3" height="37.8"/><rect x="1970" y="1207.1" width="3" height="23.9"/><rect x="1975" y="1136.1" width="3" height="94.9"/><rect x="1985" y="1198.0" width="3" height="33.0"/><rect x="1990" y="1217.1" width="3" height="13.9"/><rect x="2016" y="1156.0" width="3" height="75.0"/><rect x="2041" y="1196.0" width="3" height="35.0"/><rect x="2046" y="1190.2" width="3" height="40.8"/><rect x="2051" y="1181.1" width="3" height="49.9"/><rect x="2062" y="1212.1" width="3" height="18.9"/><rect x="2067" y="1197.0" width="3" height="34.0"/><rect x="2072" y="1183.1" width="3" height="47.9"/><rect x="2092" y="1192.2" width="3" height="38.8"/><rect x="2108" y="1207.1" width="3" height="23.9"/><rect x="2118" y="1200.1" width="3" height="30.9"/><rect x="2123" y="1193.2" width="3" height="37.8"/><rect x="2133" y="1165.0" width="3" height="66.0"/><rect x="2143" y="1179.1" width="3" height="51.9"/><rect x="2154" y="1195.0" width="3" height="36.0"/><rect x="2169" y="1214.1" width="3" height="16.9"/><rect x="2174" y="1195.0" width="3" height="36.0"/><rect x="2179" y="1202.1" width="3" height="28.9"/><rect x="2189" y="1194.0" width="3" height="37.0"/><rect x="2200" y="1185.1" width="3" height="45.9"/><rect x="2205" y="1219.2" width="3" height="11.8"/><rect x="2220" y="1208.1" width="3" height="22.9"/><rect x="2241" y="1218.2" width="3" height="12.8"/><rect x="2251" y="1186.2" width="3" height="44.8"/><rect x="2282" y="1210.1" width="3" height="20.9"/><rect x="2287" y="1203.1" width="3" height="27.9"/><rect x="2297" y="1203.1" width="3" height="27.9"/><rect x="2312" y="1217.1" width="3" height="13.9"/><rect x="2322" y="1196.0" width="3" height="35.0"/><rect x="2333" y="1195.0" width="3" height="36.0"/><rect x="2353" y="1213.1" width="3" height="17.9"/><rect x="2363" y="1211.1" width="3" height="19.9"/><rect x="2384" y="1222.2" width="3" height="8.8"/><rect x="2389" y="1219.2" width="3" height="11.8"/><rect x="2399" y="1197.0" width="3" height="34.0"/><rect x="2404" y="1191.2" width="3" height="39.8"/><rect x="2409" y="1153.1" width="3" height="77.9"/><rect x="2414" y="1211.1" width="3" height="19.9"/></g></g>
<line x1="14" y1="507" x2="2562" y2="507" stroke="#5da680" stroke-width="2" stroke-dasharray="4 2"/>
<polyline clip-path="url(#cr)" points="17.2,1344.7 22.3,1346.7 27.5,1336.4 32.6,1360.3 37.7,1345.4 42.8,1344.8 47.9,1329.2 53.0,1331.1 58.1,1331.1 63.3,1343.5 68.4,1340.2 73.5,1343.5 78.6,1360.0 83.7,1396.3 88.8,1392.6 93.9,1385.0 99.1,1390.5 104.2,1393.0 109.3,1367.5 114.4,1372.5 119.5,1372.5 124.6,1353.0 129.7,1361.5 134.9,1364.0 140.0,1336.6 145.1,1352.5 150.2,1344.2 155.3,1342.4 160.4,1336.8 165.5,1299.2 170.7,1311.4 175.8,1299.5 180.9,1277.4 186.0,1258.3 191.1,1251.9 196.2,1294.4 201.3,1311.9 206.5,1293.3 211.6,1307.4 216.7,1305.7 221.8,1323.0 226.9,1321.4 232.0,1317.8 237.1,1315.7 242.3,1302.3 247.4,1299.6 252.5,1301.3 257.6,1304.3 262.7,1332.6 267.8,1320.0 272.9,1324.2 278.1,1319.1 283.2,1352.0 288.3,1364.8 293.4,1357.6 298.5,1353.7 303.6,1353.4 308.7,1361.5 313.9,1380.5 319.0,1357.1 324.1,1360.5 329.2,1339.0 334.3,1350.7 339.4,1340.7 344.5,1334.1 349.7,1336.2 354.8,1329.6 359.9,1346.6 365.0,1340.5 370.1,1336.5 375.2,1311.0 380.3,1301.0 385.5,1304.0 390.6,1300.3 395.7,1295.4 400.8,1282.6 405.9,1347.7 411.0,1333.6 416.1,1327.1 421.3,1359.1 426.4,1355.6 431.5,1358.0 436.6,1347.8 441.7,1368.9 446.8,1363.6 451.9,1364.0 457.1,1344.7 462.2,1338.7 467.3,1346.0 472.4,1367.7 477.5,1386.8 482.6,1379.5 487.7,1385.6 492.9,1417.7 498.0,1414.6 503.1,1431.6 508.2,1416.6 513.3,1401.0 518.4,1403.9 523.5,1396.0 528.7,1398.4 533.8,1404.7 538.9,1408.5 544.0,1402.9 549.1,1399.4 554.2,1398.9 559.3,1410.3 564.5,1403.8 569.6,1403.9 574.7,1405.1 579.8,1389.9 584.9,1391.1 590.0,1391.3 595.1,1383.1 600.3,1381.5 605.4,1363.2 610.5,1374.7 615.6,1374.9 620.7,1383.5 625.8,1399.5 630.9,1405.1 636.1,1384.9 641.2,1392.4 646.3,1396.5 651.4,1423.9 656.5,1419.4 661.6,1422.7 666.7,1422.3 671.9,1400.7 677.0,1384.6 682.1,1393.7 687.2,1406.4 692.3,1398.8 697.4,1390.9 702.5,1396.0 707.7,1403.0 712.8,1398.5 717.9,1400.0 723.0,1421.5 728.1,1426.5 733.2,1427.3 738.3,1416.7 743.5,1417.4 748.6,1396.6 753.7,1395.7 758.8,1403.4 763.9,1404.0 769.0,1414.8 774.1,1386.4 779.3,1378.3 784.4,1380.1 789.5,1381.7 794.6,1385.8 799.7,1377.8 804.8,1375.9 809.9,1353.4 815.1,1351.5 820.2,1330.6 825.3,1311.3 830.4,1307.4 835.5,1291.7 840.6,1301.0 845.7,1313.0 850.9,1325.2 856.0,1354.6 861.1,1413.6 866.2,1407.4 871.3,1412.5 876.4,1394.9 881.5,1395.0 886.7,1401.6 891.8,1376.0 896.9,1384.3 902.0,1375.4 907.1,1385.2 912.2,1382.5 917.3,1382.1 922.5,1393.6 927.6,1371.2 932.7,1370.0 937.8,1346.1 942.9,1349.3 948.0,1371.8 953.1,1373.7 958.3,1371.3 963.4,1358.6 968.5,1371.7 973.6,1383.6 978.7,1377.8 983.8,1385.8 988.9,1388.5 994.1,1378.9 999.2,1382.1 1004.3,1388.4 1009.4,1406.4 1014.5,1409.5 1019.6,1357.8 1024.7,1360.9 1029.9,1352.0 1035.0,1357.4 1040.1,1340.2 1045.2,1358.2 1050.3,1359.6 1055.4,1357.9 1060.5,1359.8 1065.7,1362.5 1070.8,1350.9 1075.9,1345.4 1081.0,1339.3 1086.1,1354.5 1091.2,1362.0 1096.3,1358.8 1101.5,1347.8 1106.6,1362.1 1111.7,1355.4 1116.8,1352.9 1121.9,1363.8 1127.0,1378.3 1132.1,1370.4 1137.3,1365.5 1142.4,1384.2 1147.5,1390.4 1152.6,1394.9 1157.7,1425.2 1162.8,1441.8 1167.9,1433.7 1173.1,1449.8 1178.2,1429.1 1183.3,1423.1 1188.4,1407.2 1193.5,1410.0 1198.6,1398.5 1203.7,1404.7 1208.9,1405.9 1214.0,1410.3 1219.1,1413.7 1224.2,1418.2 1229.3,1407.1 1234.4,1405.7 1239.5,1407.9 1244.7,1394.7 1249.8,1403.3 1254.9,1408.4 1260.0,1414.7 1265.1,1408.1 1270.2,1407.2 1275.3,1416.3 1280.5,1413.7 1285.6,1438.4 1290.7,1456.1 1295.8,1409.1 1300.9,1418.2 1306.0,1417.1 1311.1,1419.5 1316.3,1399.8 1321.4,1409.3 1326.5,1409.8 1331.6,1416.3 1336.7,1415.3 1341.8,1410.5 1346.9,1403.7 1352.1,1376.6 1357.2,1386.1 1362.3,1393.5 1367.4,1387.6 1372.5,1397.5 1377.6,1370.0 1382.7,1370.0 1387.9,1365.6 1393.0,1335.0 1398.1,1340.8 1403.2,1351.0 1408.3,1360.1 1413.4,1339.3 1418.5,1347.8 1423.7,1336.9 1428.8,1347.7 1433.9,1300.8 1439.0,1300.4 1444.1,1308.0 1449.2,1299.2 1454.3,1292.5 1459.5,1319.0 1464.6,1320.0 1469.7,1315.1 1474.8,1320.1 1479.9,1338.8 1485.0,1341.2 1490.1,1346.4 1495.3,1328.3 1500.4,1324.4 1505.5,1311.1 1510.6,1319.9 1515.7,1300.1 1520.8,1316.2 1525.9,1310.0 1531.1,1302.5 1536.2,1299.9 1541.3,1305.4 1546.4,1283.0 1551.5,1273.3 1556.6,1264.6 1561.7,1265.0 1566.9,1261.2 1572.0,1281.3 1577.1,1268.2 1582.2,1252.3 1587.3,1251.2 1592.4,1244.8 1597.5,1292.8 1602.7,1304.6 1607.8,1297.1 1612.9,1287.9 1618.0,1326.9 1623.1,1328.2 1628.2,1320.9 1633.3,1326.5 1638.5,1314.5 1643.6,1329.7 1648.7,1356.7 1653.8,1381.8 1658.9,1377.9 1664.0,1377.7 1669.1,1388.2 1674.3,1388.5 1679.4,1368.4 1684.5,1378.3 1689.6,1377.5 1694.7,1371.4 1699.8,1349.6 1704.9,1360.6 1710.1,1401.0 1715.2,1396.5 1720.3,1398.5 1725.4,1404.1 1730.5,1452.2 1735.6,1423.8 1740.7,1429.8 1745.9,1428.5 1751.0,1434.3 1756.1,1428.6 1761.2,1425.4 1766.3,1404.3 1771.4,1406.5 1776.5,1407.2 1781.7,1414.3 1786.8,1397.1 1791.9,1393.8 1797.0,1396.1 1802.1,1392.9 1807.2,1400.0 1812.3,1400.1 1817.5,1406.6 1822.6,1394.7 1827.7,1393.2 1832.8,1388.7 1837.9,1379.2 1843.0,1379.3 1848.1,1373.8 1853.3,1376.6 1858.4,1334.5 1863.5,1346.4 1868.6,1336.1 1873.7,1341.1 1878.8,1360.6 1883.9,1360.0 1889.1,1360.4 1894.2,1362.5 1899.3,1360.1 1904.4,1370.6 1909.5,1339.5 1914.6,1341.6 1919.7,1320.2 1924.9,1335.0 1930.0,1352.3 1935.1,1351.9 1940.2,1335.2 1945.3,1332.2 1950.4,1329.8 1955.5,1321.5 1960.7,1316.5 1965.8,1318.8 1970.9,1319.6 1976.0,1297.3 1981.1,1319.0 1986.2,1312.7 1991.3,1310.2 1996.5,1319.5 2001.6,1327.4 2006.7,1330.5 2011.8,1346.7 2016.9,1325.6 2022.0,1327.7 2027.1,1331.4 2032.3,1376.1 2037.4,1379.1 2042.5,1372.0 2047.6,1354.2 2052.7,1348.8 2057.8,1365.7 2062.9,1355.3 2068.1,1345.0 2073.2,1333.4 2078.3,1334.0 2083.4,1344.2 2088.5,1366.8 2093.6,1352.2 2098.7,1352.9 2103.9,1367.3 2109.0,1358.7 2114.1,1364.7 2119.2,1351.2 2124.3,1331.9 2129.4,1332.2 2134.5,1304.5 2139.7,1328.5 2144.8,1311.4 2149.9,1330.2 2155.0,1322.9 2160.1,1325.6 2165.2,1331.6 2170.3,1329.4 2175.5,1325.9 2180.6,1323.1 2185.7,1329.3 2190.8,1323.8 2195.9,1361.4 2201.0,1349.9 2206.1,1348.8 2211.3,1362.0 2216.4,1363.0 2221.5,1354.6 2226.6,1358.4 2231.7,1363.8 2236.8,1369.2 2241.9,1368.2 2247.1,1371.4 2252.2,1338.0 2257.3,1338.0 2262.4,1360.1 2267.5,1365.1 2272.6,1372.2 2277.7,1389.9 2282.9,1379.3 2288.0,1372.7 2293.1,1377.4 2298.2,1363.6 2303.3,1374.6 2308.4,1377.4 2313.5,1367.0 2318.7,1370.8 2323.8,1338.2 2328.9,1344.4 2334.0,1329.6 2339.1,1343.7 2344.2,1346.3 2349.3,1351.3 2354.5,1343.8 2359.6,1352.5 2364.7,1350.7 2369.8,1357.7 2374.9,1371.6 2380.0,1374.3 2385.1,1364.7 2390.3,1353.8 2395.4,1364.4 2400.5,1337.9 2405.6,1305.3 2410.7,1291.4 2415.8,1291.6" fill="none" stroke="#8e1599" stroke-width="2" stroke-linejoin="round"/>
<g fill="#4c4c4e"><rect x="14" y="1232" width="2668" height="2"/><rect x="14" y="1468" width="2668" height="2"/><rect x="2562" y="88" width="2" height="1434"/></g>
<g fill="#4c4c4e"><rect x="2564" y="95" width="8" height="2"/><rect x="2564" y="161" width="8" height="2"/><rect x="2564" y="227" width="8" height="2"/><rect x="2564" y="293" width="8" height="2"/><rect x="2564" y="359" width="8" height="2"/><rect x="2564" y="425" width="8" height="2"/><rect x="2564" y="491" width="8" height="2"/><rect x="2564" y="557" width="8" height="2"/><rect x="2564" y="623" width="8" height="2"/><rect x="2564" y="689" width="8" height="2"/><rect x="2564" y="755" width="8" height="2"/><rect x="2564" y="821" width="8" height="2"/><rect x="2564" y="887" width="8" height="2"/><rect x="2564" y="953" width="8" height="2"/><rect x="2564" y="1019" width="8" height="2"/><rect x="2564" y="1085" width="8" height="2"/><rect x="2564" y="1151" width="8" height="2"/><rect x="2564" y="1216" width="8" height="2"/><rect x="2564" y="1272" width="8" height="2"/><rect x="2564" y="1334" width="8" height="2"/><rect x="2564" y="1397" width="8" height="2"/><rect x="2564" y="1459" width="8" height="2"/><rect x="113" y="1470" width="2" height="6"/><rect x="272" y="1470" width="2" height="6"/><rect x="425" y="1470" width="2" height="6"/><rect x="584" y="1470" width="2" height="6"/><rect x="742" y="1470" width="2" height="6"/><rect x="895" y="1470" width="2" height="6"/><rect x="1054" y="1470" width="2" height="6"/><rect x="1207" y="1470" width="2" height="6"/><rect x="1366" y="1470" width="2" height="6"/><rect x="1525" y="1470" width="2" height="6"/><rect x="1678" y="1470" width="2" height="6"/><rect x="1831" y="1470" width="2" height="6"/><rect x="1985" y="1470" width="2" height="6"/><rect x="2143" y="1470" width="2" height="6"/><rect x="2297" y="1470" width="2" height="6"/><rect x="2455" y="1470" width="2" height="6"/></g>
<g fill="#4c4c4e" stroke="#4c4c4e" stroke-width="0.35" style="font-family:'Liberation Sans',sans-serif;font-size:23.5px"><g clip-path="url(#cp)"><text x="2580.5" y="103.5" textLength="66" lengthAdjust="spacingAndGlyphs">400.00</text><text x="2580.5" y="169.5" textLength="66" lengthAdjust="spacingAndGlyphs">380.00</text><text x="2580.5" y="235.5" textLength="66" lengthAdjust="spacingAndGlyphs">360.00</text><text x="2580.5" y="301.5" textLength="66" lengthAdjust="spacingAndGlyphs">340.00</text><text x="2580.5" y="367.5" textLength="66" lengthAdjust="spacingAndGlyphs">320.00</text><text x="2580.5" y="433.5" textLength="66" lengthAdjust="spacingAndGlyphs">300.00</text><text x="2580.5" y="499.5" textLength="66" lengthAdjust="spacingAndGlyphs">280.00</text><text x="2580.5" y="565.5" textLength="66" lengthAdjust="spacingAndGlyphs">260.00</text><text x="2580.5" y="631.5" textLength="66" lengthAdjust="spacingAndGlyphs">240.00</text><text x="2580.5" y="697.5" textLength="66" lengthAdjust="spacingAndGlyphs">220.00</text><text x="2580.5" y="763.5" textLength="66" lengthAdjust="spacingAndGlyphs">200.00</text><text x="2580.5" y="829.5" textLength="66" lengthAdjust="spacingAndGlyphs">180.00</text><text x="2580.5" y="895.5" textLength="66" lengthAdjust="spacingAndGlyphs">160.00</text><text x="2580.5" y="961.5" textLength="66" lengthAdjust="spacingAndGlyphs">140.00</text><text x="2580.5" y="1027.5" textLength="66" lengthAdjust="spacingAndGlyphs">120.00</text><text x="2580.5" y="1093.5" textLength="66" lengthAdjust="spacingAndGlyphs">100.00</text><text x="2580.5" y="1159.5" textLength="53" lengthAdjust="spacingAndGlyphs">80.00</text><text x="2580.5" y="1224.5" textLength="53" lengthAdjust="spacingAndGlyphs">60.00</text></g><g clip-path="url(#ca)"><text x="2580.5" y="1280.5" textLength="53" lengthAdjust="spacingAndGlyphs">80.00</text><text x="2580.5" y="1342.5" textLength="53" lengthAdjust="spacingAndGlyphs">60.00</text><text x="2580.5" y="1405.5" textLength="53" lengthAdjust="spacingAndGlyphs">40.00</text><text x="2580.5" y="1467.5" textLength="53" lengthAdjust="spacingAndGlyphs">20.00</text></g></g>
<g fill="#4c4c4e" stroke="#4c4c4e" stroke-width="0.35" style="font-family:'Liberation Sans',sans-serif;font-size:23.5px;font-size:22px"><text x="114.0" y="1506" text-anchor="middle" textLength="38.3" lengthAdjust="spacingAndGlyphs">May</text><text x="272.5" y="1506" text-anchor="middle" textLength="33" lengthAdjust="spacingAndGlyphs">Jun</text><text x="426.0" y="1506" text-anchor="middle" textLength="27.3" lengthAdjust="spacingAndGlyphs">Jul</text><text x="584.5" y="1506" text-anchor="middle" textLength="36" lengthAdjust="spacingAndGlyphs">Aug</text><text x="743.1" y="1506" text-anchor="middle" textLength="34.5" lengthAdjust="spacingAndGlyphs">Sep</text><text x="896.5" y="1506" text-anchor="middle" textLength="34.5" lengthAdjust="spacingAndGlyphs">Oct</text><text x="1055.0" y="1506" text-anchor="middle" textLength="36" lengthAdjust="spacingAndGlyphs">Nov</text><text x="1208.5" y="1506" text-anchor="middle" textLength="35.2" lengthAdjust="spacingAndGlyphs">Dec</text><text x="1367.0" y="1506" text-anchor="middle" textLength="49.5" lengthAdjust="spacingAndGlyphs" font-weight="bold">2020</text><text x="1525.5" y="1506" text-anchor="middle" textLength="35" lengthAdjust="spacingAndGlyphs">Feb</text><text x="1679.0" y="1506" text-anchor="middle" textLength="11" lengthAdjust="spacingAndGlyphs">2</text><text x="1832.4" y="1506" text-anchor="middle" textLength="33" lengthAdjust="spacingAndGlyphs">Apr</text><text x="1985.8" y="1506" text-anchor="middle" textLength="38.3" lengthAdjust="spacingAndGlyphs">May</text><text x="2144.4" y="1506" text-anchor="middle" textLength="33" lengthAdjust="spacingAndGlyphs">Jun</text><text x="2297.8" y="1506" text-anchor="middle" textLength="27.3" lengthAdjust="spacingAndGlyphs">Jul</text><text x="2456.3" y="1506" text-anchor="middle" textLength="36" lengthAdjust="spacingAndGlyphs">Aug</text></g>
<rect x="2562" y="475" width="100" height="34" fill="#000"/>
<rect x="2562" y="509" width="100" height="34" fill="#6ba583"/>
<rect x="2564" y="545" width="110" height="34" fill="#6ba583"/>
<rect x="2562" y="491" width="8" height="2" fill="#fff"/><rect x="2562" y="525" width="8" height="2" fill="#fff"/>
<g fill="#fff" stroke="#fff" stroke-width="0.35" style="font-family:'Liberation Sans',sans-serif;font-size:23.5px"><text x="2580.5" y="498.5" textLength="65" lengthAdjust="spacingAndGlyphs">280.01</text><text x="2580.5" y="532.5" textLength="65" lengthAdjust="spacingAndGlyphs">275.38</text><text x="2573" y="568.7" textLength="83" lengthAdjust="spacingAndGlyphs">11:35:57</text></g>
<g fill="#555" style="font-family:'Liberation Sans',sans-serif"><text x="30" y="128.8" font-size="24" font-weight="bold" textLength="438" lengthAdjust="spacingAndGlyphs">Ethereum / U.S. Dollar, 1D, BITSTAMP</text><text x="30.5" y="162.3" font-size="24" textLength="37" lengthAdjust="spacingAndGlyphs">Vol</text><text x="30.5" y="1275" font-size="24" textLength="155" lengthAdjust="spacingAndGlyphs">RSI (14, close)</text></g>
<g fill="#131722" style="font-family:'Liberation Sans',sans-serif" font-size="25"><text x="13" y="33.2" font-weight="bold" textLength="135" lengthAdjust="spacingAndGlyphs">whoisyashu</text><text x="156.3" y="33.2" textLength="110" lengthAdjust="spacingAndGlyphs">published</text><text x="273.6" y="33.2" textLength="28.5" lengthAdjust="spacingAndGlyphs">on</text><text x="308.6" y="33.2" textLength="205" lengthAdjust="spacingAndGlyphs">TradingView.com,</text><text x="519.6" y="33.2" textLength="145.5" lengthAdjust="spacingAndGlyphs">July 24, 2020</text><text x="672.2" y="33.2" textLength="98.7" lengthAdjust="spacingAndGlyphs">08:24:04</text><text x="778.8" y="33.2" textLength="43" lengthAdjust="spacingAndGlyphs">EDT</text><text x="13" y="67" font-weight="bold" textLength="266" lengthAdjust="spacingAndGlyphs">BITSTAMP:ETHUSD, 1D</text><text x="291.4" y="67" textLength="74" lengthAdjust="spacingAndGlyphs">275.38</text><text x="401.5" y="67" textLength="153.5" lengthAdjust="spacingAndGlyphs">−0.28 (−0.1%)</text><text x="563.8" y="67" font-weight="bold" textLength="25.5" lengthAdjust="spacingAndGlyphs">O:</text><text x="678" y="67" font-weight="bold" textLength="24" lengthAdjust="spacingAndGlyphs">H:</text><text x="791" y="67" font-weight="bold" textLength="17.7" lengthAdjust="spacingAndGlyphs">L:</text><text x="898" y="67" font-weight="bold" textLength="21" lengthAdjust="spacingAndGlyphs">C:</text><g fill="#ef5350"><text x="593.2" y="67" textLength="74.6" lengthAdjust="spacingAndGlyphs">275.27</text><text x="705.6" y="67" textLength="75.4" lengthAdjust="spacingAndGlyphs">276.84</text><text x="812.6" y="67" textLength="75.9" lengthAdjust="spacingAndGlyphs">267.96</text><text x="922.8" y="67" textLength="76.2" lengthAdjust="spacingAndGlyphs">275.38</text><path d="M372.7 49.2H393L382.85 68Z"/></g></g>
<g><g fill="#2196f3"><circle cx="20.500" cy="1566.200" r="8.800"/><circle cx="33.900" cy="1556.600" r="11.900"/><circle cx="50.900" cy="1560.300" r="7.300"/><circle cx="57.200" cy="1568" r="7"/><rect x="20.500" y="1560" width="36.700" height="15"/></g><path fill="none" stroke="#fff" stroke-width="2.300" d="M11 1572.600L31.700 1556.600 44 1567.600 59.500 1552.500"/><circle cx="31.700" cy="1556.600" r="3.700" fill="#fff"/><circle cx="44" cy="1567.600" r="3.700" fill="#fff"/><text x="67.600" y="1567.600" fill="#131722" style="font-family:'Liberation Sans',sans-serif" font-size="25" textLength="141" lengthAdjust="spacingAndGlyphs">TradingView</text></g>
</svg></body></html>
